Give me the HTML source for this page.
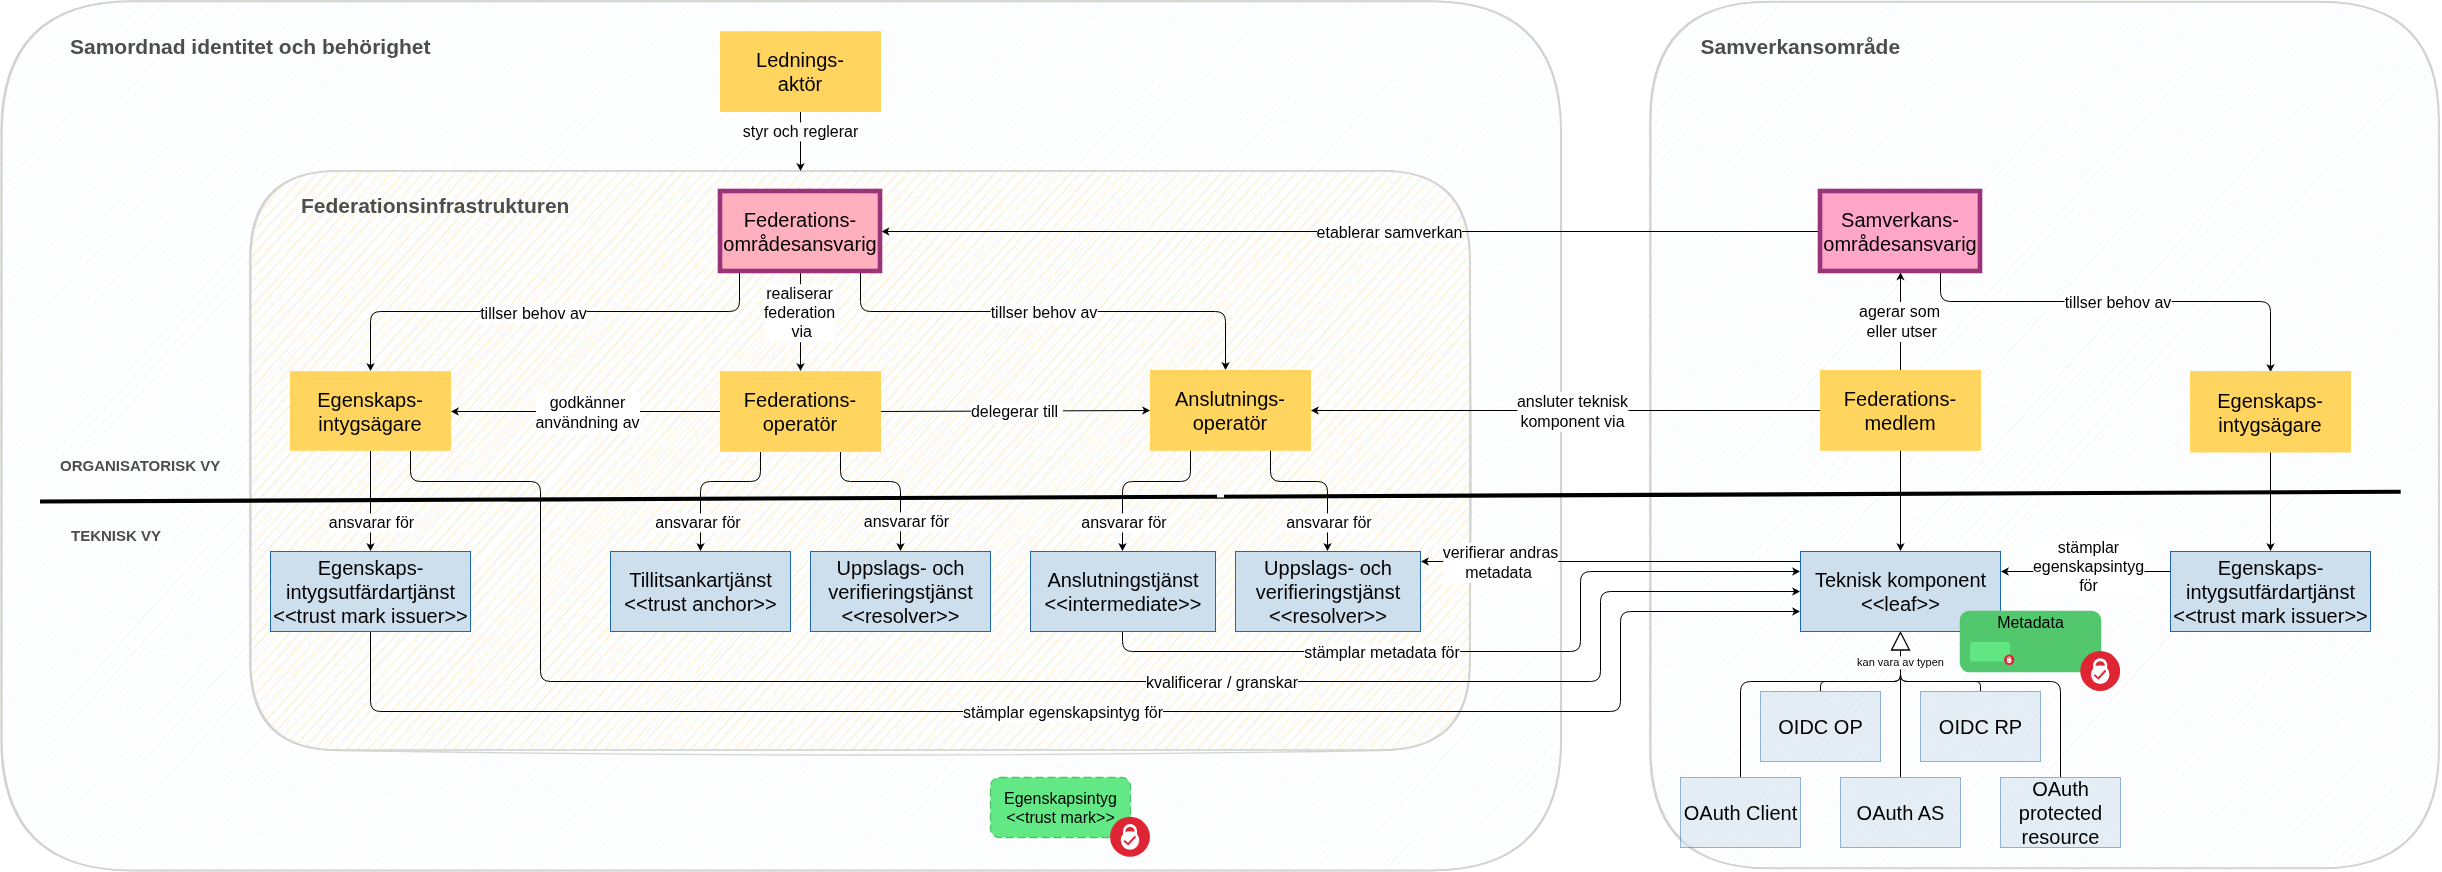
<!DOCTYPE html>
<html lang="sv"><head><meta charset="utf-8"><title>Federation</title>
<style>
html,body{margin:0;padding:0;background:#fff}
#c{will-change:transform;position:relative;width:2442px;height:872px;overflow:hidden;background:#fff;font-family:"Liberation Sans",Arial,Helvetica,sans-serif;color:#000}
#c svg{position:absolute;left:0;top:0}
.l{position:absolute;transform:translate(-50%,-50%);text-align:center;white-space:nowrap;line-height:1.2}
.b{font-size:20px}
.g{font-size:16px}
.e{font-size:16px;background:#fff}
.pad{padding:0 5px 0 0}
.lh{line-height:20.5px}
.lh2{line-height:20px}
.s{font-size:11px;background:#fff}
.t,.v{position:absolute;transform:translate(0,-50%);white-space:nowrap;font-weight:bold;color:#4d4d4d;line-height:1.2}
.t{font-size:21px}
.v{font-size:15px}
</style></head><body>
<div id="c">
<svg width="2442" height="872" viewBox="0 0 2442 872">
<clipPath id="cp1"><path d="M131.2 1.4 L1431.2 1.4 Q1561.2 1.4 1561.2 131.4 L1561.2 740.4 Q1561.2 870.4 1431.2 870.4 L131.2 870.4 Q1.2 870.4 1.2 740.4 L1.2 131.4 Q1.2 1.4 131.2 1.4 Z"/></clipPath>
<g clip-path="url(#cp1)">
<path d="M0.5 7.4C2.5 5.1 4.1 3.5 6.5 0.7M-0.0 12.5C4.0 12.1 6.2 7.7 13.5 -0.1M-0.3 18.6C8.5 11.5 13.6 6.7 16.8 1.6M1.9 25.0C5.2 20.7 10.4 14.5 23.9 2.2M2.7 32.2C7.0 25.8 13.0 16.1 29.1 0.0M2.3 37.6C12.6 25.7 21.5 16.2 33.8 1.2M1.9 41.5C15.5 28.5 30.5 13.8 38.0 0.9M-0.1 47.7C14.3 34.4 28.9 16.3 43.8 2.9M2.7 56.5C13.2 42.6 21.9 31.3 51.2 3.2M0.1 61.1C14.3 46.8 24.4 33.6 54.5 1.7M1.7 67.9C22.3 43.1 48.3 17.3 61.6 1.0M-0.6 71.4C18.7 51.5 37.3 31.0 63.8 0.0M2.7 79.6C15.4 61.7 31.6 45.0 69.7 2.8M-0.5 83.5C30.7 50.8 62.6 17.0 74.6 3.2M-0.7 91.2C28.4 65.0 52.0 35.2 81.4 0.1M0.5 95.9C32.9 64.6 63.6 30.0 88.6 2.4M-0.7 101.1C22.7 77.4 46.8 55.2 92.5 3.1M0.1 107.9C37.5 65.3 77.8 25.3 99.4 1.3M1.8 116.6C35.5 79.3 68.1 39.4 104.6 0.7M0.8 122.7C39.7 76.8 76.1 33.7 110.5 2.6M1.8 126.3C26.5 95.6 50.3 70.2 114.8 1.5M2.5 131.8C46.2 80.3 91.9 30.7 118.7 1.1M1.0 139.2C29.7 107.8 57.8 77.1 125.1 1.5M-0.8 146.1C26.4 116.4 54.9 87.5 129.7 1.5M1.4 149.9C41.5 106.3 84.2 59.0 136.7 2.9M1.2 157.5C41.1 112.1 81.6 68.6 141.9 2.7M2.7 164.0C57.1 98.6 114.6 35.8 145.6 -0.1M0.0 169.5C51.3 110.6 102.3 57.6 150.9 3.0M2.3 173.6C44.7 125.0 88.0 75.5 156.7 2.2M-0.4 180.2C34.4 144.4 65.4 109.4 163.6 3.0M2.1 186.0C37.6 146.8 77.0 107.1 167.3 0.3M-0.1 191.3C67.7 118.5 131.8 46.7 173.9 2.4M2.3 198.5C38.1 157.3 78.4 113.6 177.7 1.5M-0.2 203.7C47.2 154.7 93.9 104.3 184.2 0.4M-0.3 211.3C53.6 154.0 104.2 99.9 188.4 2.4M0.9 216.6C57.3 155.4 111.7 93.3 195.6 1.8M0.1 221.3C58.4 161.0 112.6 98.4 201.4 2.5M0.6 228.4C69.3 153.3 137.9 78.9 207.1 1.5M0.8 233.1C51.6 177.0 104.2 118.2 211.1 -0.0M-0.1 239.2C56.5 179.6 111.7 120.0 217.2 1.8M0.7 247.8C74.7 163.3 151.8 77.3 222.8 2.5M0.2 252.5C74.0 170.7 148.4 89.0 227.5 2.5M-0.0 257.5C78.1 171.7 157.2 86.4 233.0 1.7M2.0 265.1C80.9 177.6 160.9 88.0 238.6 0.8M0.5 271.0C55.2 211.9 105.8 154.0 243.9 2.1M0.3 275.8C81.4 188.3 161.0 98.6 247.7 0.8M0.7 282.4C85.1 187.8 168.8 94.9 253.5 2.6M2.0 289.4C102.8 176.8 202.2 67.3 258.9 1.6M0.4 295.1C61.4 226.9 122.0 158.5 265.9 1.4M1.1 299.8C57.2 238.7 112.8 178.6 269.2 2.0M1.7 307.2C103.0 192.6 204.2 81.8 275.9 1.1M0.3 313.0C81.4 225.8 161.3 135.5 281.1 0.7M1.9 318.5C78.9 231.0 156.5 143.5 285.5 1.9M0.8 323.3C85.6 229.4 169.0 136.1 291.4 1.9M0.8 330.3C118.8 199.1 235.3 69.2 298.0 1.4M1.1 335.5C72.8 252.2 146.7 170.6 302.1 0.9M1.0 342.0C96.3 234.2 192.3 126.7 307.6 2.3M1.9 347.6C71.1 269.2 141.6 191.5 314.2 2.0M1.6 354.8C121.6 223.5 239.7 91.0 319.5 2.0M0.5 359.5C119.6 228.0 240.2 94.9 324.4 1.9M1.7 365.6C97.4 261.3 192.1 154.1 329.1 1.6M1.2 372.2C115.5 246.8 229.3 120.6 334.6 1.3M1.2 377.6C133.2 230.2 266.8 81.6 339.5 1.4M1.5 384.7C116.4 255.8 231.9 128.3 346.0 0.9M0.7 390.7C125.9 250.8 251.5 110.2 351.5 1.1M0.8 395.8C140.2 243.5 278.0 88.6 356.0 2.2M1.0 402.6C85.6 312.1 168.2 220.9 361.6 0.9M1.5 407.7C141.9 251.6 283.3 93.7 366.9 1.2M0.7 413.6C148.2 251.7 292.8 89.1 372.6 1.2M1.8 419.1C146.7 260.1 291.9 98.2 377.2 0.7M1.8 425.6C148.4 262.8 295.7 98.7 383.7 1.1M1.9 432.0C102.5 320.4 200.2 211.4 389.5 2.1M1.2 438.5C110.5 317.5 220.4 196.5 394.6 1.6M1.7 443.1C107.1 327.1 213.0 208.6 398.8 1.5M2.0 449.4C105.9 329.0 213.6 211.1 404.8 1.0M1.6 456.3C116.9 325.8 233.1 197.3 410.4 1.2M0.8 461.1C147.0 302.7 290.2 142.4 416.4 1.4M2.0 467.0C103.4 352.8 207.4 238.2 420.3 1.1M1.3 474.3C97.4 366.9 192.7 260.2 426.9 2.1M0.7 479.4C95.5 373.0 190.9 267.9 432.0 0.9M0.7 485.3C89.6 387.5 178.3 288.4 436.5 1.2M0.7 491.9C137.3 340.7 274.0 189.8 442.3 1.5M2.0 497.3C122.3 362.0 243.6 226.1 448.6 1.3M1.1 503.0C165.4 319.4 331.0 137.2 452.7 1.6M0.9 509.6C127.3 370.9 252.0 232.7 459.5 0.9M1.2 514.8C104.4 397.7 208.6 282.2 464.6 0.9M1.8 522.0C169.1 335.6 336.7 150.4 469.3 0.8M0.5 527.6C118.8 394.0 237.1 262.9 475.0 1.5M1.3 533.3C158.2 360.5 313.7 186.7 480.4 1.4M1.1 538.9C119.7 404.8 238.8 272.4 485.0 1.3M0.5 545.8C151.6 380.6 298.4 216.3 490.8 2.1M1.6 551.9C111.7 425.2 224.7 300.2 497.1 0.9M1.0 557.8C177.8 360.9 357.0 161.9 501.2 1.4M1.2 563.0C196.0 348.0 390.5 133.4 507.4 2.0M1.2 569.5C119.2 438.7 239.0 305.5 513.2 0.8M1.7 574.9C207.4 347.1 412.3 118.7 517.8 0.9M0.8 581.5C186.1 377.9 367.7 175.2 522.5 0.7M1.2 587.9C121.3 452.4 243.4 317.4 527.9 1.2M1.3 593.4C119.3 463.6 237.7 331.9 534.8 1.0M1.8 599.6C126.7 460.8 249.8 324.0 539.6 1.2M1.6 604.8C181.0 403.8 359.4 205.7 544.4 0.7M1.9 610.6C198.4 394.2 394.2 177.3 550.7 0.9M1.8 617.6C147.7 457.1 293.1 297.0 555.5 1.8M0.8 622.4C164.9 444.7 328.1 264.2 561.3 1.0M1.2 628.7C177.4 433.5 352.3 238.3 565.6 1.0M1.6 634.8C141.6 476.1 281.7 320.4 572.0 1.7M1.7 641.4C191.1 428.0 382.7 215.2 576.8 0.9M0.6 646.3C191.4 436.3 380.4 225.5 581.8 0.7M1.6 652.3C199.3 431.3 398.2 211.4 588.5 0.7M0.6 658.5C219.6 410.5 441.9 166.1 593.5 1.9M0.6 665.4C196.8 450.1 392.1 233.1 598.3 1.1M1.9 670.9C209.3 442.2 414.9 212.2 603.9 1.8M0.7 677.5C163.3 495.3 327.2 312.0 608.9 1.8M1.2 683.4C246.1 413.3 489.1 144.3 614.4 2.1M1.2 688.2C161.9 510.7 321.1 335.2 620.7 1.6M1.8 694.2C171.7 506.6 339.8 319.0 626.2 1.4M1.1 700.9C173.2 509.6 346.7 316.0 630.7 0.8M0.7 706.7C234.8 445.7 467.9 185.5 637.0 1.0M1.7 712.2C154.4 541.8 307.3 372.7 641.2 1.1M0.6 719.5C151.5 546.8 306.5 376.8 647.5 1.3M0.7 724.5C155.5 553.6 312.5 381.0 652.5 1.6M1.0 731.1C196.1 516.6 387.8 303.7 657.7 1.0M1.5 737.2C227.3 482.2 455.0 228.4 663.5 0.8M1.4 742.3C188.9 531.0 378.7 320.5 668.9 2.1M1.0 748.6C160.2 569.6 318.7 393.0 674.5 2.1M1.3 755.0C209.7 525.6 416.3 296.5 679.3 2.1M1.6 760.0C166.3 577.2 330.2 393.3 684.6 0.6M1.0 766.2C196.7 548.8 393.3 331.3 689.7 1.9M1.6 773.0C196.5 559.9 389.7 344.8 696.3 1.2M1.1 778.2C228.6 521.4 458.4 267.1 701.5 1.0M0.7 783.7C197.2 569.0 390.5 353.5 706.3 1.3M1.9 791.1C232.1 533.4 466.2 274.9 711.1 1.9M1.9 796.7C237.7 538.9 471.4 279.4 717.5 1.2M0.7 803.1C165.1 616.5 331.4 432.1 722.9 1.9M1.6 808.3C174.6 615.1 347.6 421.3 727.3 1.4M1.2 814.4C156.4 645.0 310.6 472.8 733.2 1.5M1.1 821.1C243.9 548.6 490.4 274.8 738.8 1.7M1.2 826.3C289.9 504.1 576.5 186.3 743.7 2.0M1.6 831.9C205.7 605.0 410.3 378.6 749.0 1.9M1.2 839.1C213.0 605.2 424.0 369.5 754.4 1.5M1.6 844.9C247.5 570.8 495.3 295.1 759.6 2.1M1.9 850.4C246.2 575.6 492.3 302.4 765.8 0.9M0.6 855.7C257.4 570.1 515.4 284.9 770.7 1.9M0.9 862.1C277.4 556.0 554.9 249.3 775.6 1.5M1.3 868.9C166.0 685.3 328.1 506.0 782.4 2.2M4.8 869.9C235.5 615.7 466.2 360.3 786.4 2.1M9.2 870.8C177.3 684.0 347.5 493.8 792.9 1.7M15.6 870.7C304.1 551.2 594.1 228.8 798.2 0.6M20.1 870.1C178.9 691.5 337.9 515.7 802.5 1.2M25.6 870.9C272.8 595.8 519.7 321.7 808.4 1.9M31.2 869.7C334.7 532.3 638.8 193.7 814.1 2.2M36.8 871.0C322.6 553.6 609.5 235.7 819.8 1.1M42.4 870.9C201.3 696.1 358.0 523.2 825.3 1.5M48.0 871.1C244.3 646.4 444.0 426.2 829.6 1.8M53.3 870.3C356.7 533.6 659.9 198.7 835.4 0.7M58.6 871.0C339.9 558.1 621.9 244.2 840.4 0.9M63.9 870.2C247.2 665.5 431.2 461.6 846.1 0.8M69.3 870.2C322.7 588.0 577.5 305.8 852.2 1.4M74.5 871.1C321.9 596.8 567.5 323.5 856.3 0.9M80.0 871.0C267.6 668.7 453.1 462.1 862.6 1.2M85.4 870.6C258.1 677.6 432.5 482.6 867.2 2.1M90.3 870.2C405.0 527.8 716.6 180.2 873.6 1.7M95.5 870.8C351.1 587.3 607.8 300.9 879.0 0.8M101.5 869.9C309.9 642.1 517.8 411.8 884.3 0.9M107.6 871.0C266.6 691.5 428.1 511.4 890.0 1.9M112.8 870.4C367.6 587.8 621.8 304.7 895.0 1.5M117.5 869.8C293.8 673.5 473.1 473.4 900.1 1.1M122.3 871.0C423.8 536.2 721.3 205.5 905.1 0.9M129.1 869.8C338.1 630.8 551.3 393.4 910.5 2.2M133.2 869.6C291.2 694.9 449.1 518.1 916.9 0.9M139.6 870.7C387.1 598.6 632.8 326.4 921.6 1.0M145.0 870.5C332.0 658.8 521.6 449.7 927.3 0.7M150.5 870.4C433.6 554.2 717.7 239.5 932.0 0.9M155.1 870.6C442.1 554.2 729.4 235.9 937.2 1.7M161.0 870.2C442.8 555.1 727.3 240.8 943.1 1.4M166.8 870.0C404.8 606.8 644.4 341.9 947.8 0.8M171.6 870.5C439.5 578.5 704.7 283.4 954.3 0.7M176.5 869.8C352.5 674.6 528.5 480.6 958.7 1.5M182.9 870.2C457.8 565.3 731.2 261.1 965.4 1.8M187.5 871.2C399.4 639.5 608.9 406.7 969.3 1.4M192.9 870.6C496.1 531.7 802.1 191.3 975.4 0.6M199.1 870.6C373.9 671.3 552.3 471.9 981.0 1.0M204.4 870.6C467.6 578.5 730.5 287.4 985.9 1.1M209.9 870.4C469.2 583.4 727.5 296.6 991.0 0.8M214.1 869.7C417.7 647.4 620.2 422.2 997.2 0.9M220.1 870.4C487.5 572.4 755.0 275.6 1002.2 1.5M224.9 870.5C384.6 691.9 543.8 516.1 1008.2 0.9M230.0 870.2C394.9 685.7 561.3 499.5 1013.9 1.8M236.3 870.6C418.4 671.2 598.6 470.4 1018.9 1.8M242.1 869.8C470.9 611.9 701.6 356.4 1023.9 2.1M247.4 870.6C493.2 595.3 739.3 322.6 1028.9 1.2M252.7 871.0C496.4 601.1 739.3 330.6 1034.1 1.5M257.3 870.9C508.5 593.6 755.0 317.9 1040.7 0.6M263.6 870.8C426.5 689.2 590.4 506.4 1045.7 1.2M269.1 870.7C480.2 634.7 692.4 399.2 1050.9 1.5M273.6 870.6C565.5 543.5 858.9 217.6 1055.6 1.1M278.5 871.0C586.7 527.0 896.8 183.2 1061.4 0.9M284.0 869.9C486.5 646.3 687.9 422.8 1067.2 0.7M290.2 869.6C508.4 626.9 729.8 381.3 1071.8 1.4M295.3 871.2C540.1 599.4 782.4 329.0 1078.1 0.8M301.2 870.6C475.6 678.4 646.5 488.3 1082.8 1.7M305.4 871.0C520.3 636.3 732.0 401.1 1087.8 2.0M311.6 870.0C555.1 596.4 804.1 320.3 1094.5 1.9M316.8 871.1C519.7 640.8 724.4 413.9 1098.9 2.0M321.6 870.2C551.9 614.8 784.4 356.1 1104.0 1.5M326.9 870.9C544.8 631.9 761.4 391.1 1109.6 0.7M333.3 869.7C594.1 583.8 854.3 294.0 1115.9 1.9M338.1 871.1C520.3 668.3 702.2 465.6 1120.7 0.8M343.8 870.2C612.0 571.5 879.0 275.3 1125.5 1.4M348.9 870.7C592.2 600.3 833.3 331.8 1131.0 2.0M354.6 870.2C560.1 642.9 766.1 413.4 1136.5 0.8M360.5 870.8C630.6 573.2 898.1 273.9 1141.5 1.7M365.5 870.7C626.2 582.4 886.7 292.9 1147.2 0.8M369.9 869.7C667.8 536.2 967.3 204.0 1152.3 1.1M376.1 870.7C634.2 583.4 891.3 298.6 1157.6 1.9M381.9 870.6C660.1 564.1 938.2 256.2 1163.4 2.1M386.6 870.8C663.9 564.8 936.5 261.8 1169.1 2.1M392.3 870.3C654.5 574.6 919.8 280.3 1175.3 0.8M398.0 870.0C676.5 563.7 952.4 256.8 1179.6 0.7M402.6 869.8C616.3 636.6 828.1 399.9 1185.4 1.3M408.9 869.8C712.4 534.9 1015.7 198.8 1191.2 0.9M414.1 870.9C673.2 580.7 934.4 290.9 1195.4 1.0M418.4 870.1C604.9 662.4 791.8 453.9 1200.7 2.2M425.2 870.5C700.6 564.8 975.1 260.1 1207.0 0.6M430.5 870.6C728.8 535.6 1029.0 201.6 1212.7 1.9M435.8 871.1C639.7 644.7 843.6 419.3 1217.4 0.9M440.7 870.2C728.0 553.6 1012.4 236.8 1223.2 1.9M446.0 870.4C709.5 570.9 977.1 274.1 1228.7 0.9M450.6 870.3C673.4 622.5 899.0 371.9 1234.4 1.9M456.8 870.3C681.0 621.5 904.6 374.4 1239.8 0.9M461.9 869.9C664.6 644.5 868.0 420.4 1245.2 2.0M468.0 869.7C773.5 526.7 1081.9 183.5 1250.7 1.4M473.5 869.6C731.6 585.4 989.8 298.1 1255.6 1.2M478.4 870.2C725.6 595.0 974.2 320.8 1260.1 2.0M483.2 870.4C682.7 651.9 878.9 433.9 1266.1 1.5M488.9 871.0C658.8 685.7 828.2 497.0 1272.3 1.8M493.9 871.1C664.7 680.0 836.5 488.4 1276.2 1.0M499.3 870.1C718.3 631.2 933.3 393.0 1282.8 1.5M505.6 870.1C803.1 539.5 1103.3 205.3 1287.4 1.8M510.7 869.8C813.9 535.2 1118.1 196.8 1293.3 1.0M516.1 869.8C702.3 660.3 890.2 453.0 1298.5 1.1M521.9 870.5C786.5 579.9 1050.9 285.4 1303.5 0.8M526.0 869.9C759.6 607.8 994.0 346.5 1308.6 2.0M531.4 870.1C747.1 628.2 965.7 384.6 1314.0 1.2M537.2 869.6C766.8 615.7 995.5 360.8 1320.7 0.7M542.5 870.4C720.6 672.8 900.3 474.3 1326.1 0.7M548.7 870.6C790.8 596.6 1034.4 326.1 1331.3 2.1M554.0 870.4C818.3 576.3 1081.3 284.2 1335.4 1.1M558.8 870.0C762.2 640.3 969.2 409.8 1342.0 1.3M563.9 869.7C789.8 620.1 1016.7 369.3 1347.5 1.1M569.3 870.5C870.6 538.9 1170.9 205.1 1352.8 0.7M574.8 869.6C804.1 613.4 1037.3 355.3 1357.4 0.9M580.0 870.8C829.6 591.1 1079.0 312.8 1363.6 1.1M586.5 870.6C766.6 672.2 943.6 475.5 1368.6 1.2M591.2 869.7C855.4 581.1 1117.9 289.7 1373.4 1.3M597.5 869.7C752.5 694.2 910.7 517.0 1378.6 0.8M601.9 870.5C881.6 561.4 1158.3 254.3 1384.2 1.8M607.9 870.1C803.2 650.9 999.6 431.2 1389.9 2.1M613.1 870.8C793.1 674.6 970.1 477.5 1394.6 0.6M618.3 869.9C799.5 673.1 975.7 475.6 1401.0 2.1M623.2 871.2C808.7 666.9 990.3 465.2 1406.0 1.1M628.3 870.6C929.4 538.7 1226.8 207.4 1411.3 2.1M634.0 870.0C937.7 533.7 1241.7 196.5 1417.0 1.1M639.2 871.0C954.4 523.0 1266.3 177.3 1421.8 1.1M645.4 870.6C874.8 614.5 1108.0 355.7 1428.2 1.2M651.1 871.2C926.2 562.3 1204.4 254.5 1432.2 2.1M655.4 870.7C833.7 672.7 1015.1 473.2 1438.9 2.2M661.6 869.7C824.8 688.6 986.3 508.9 1443.0 2.2M666.6 869.8C869.9 643.5 1076.4 414.6 1449.5 1.4M672.7 870.2C846.7 677.8 1021.8 484.1 1454.1 0.9M677.4 870.3C878.4 653.2 1075.4 434.0 1460.1 1.5M683.4 870.7C923.7 597.9 1166.1 329.8 1465.1 1.2M687.4 870.6C912.0 621.8 1132.1 377.0 1470.2 0.9M694.2 869.7C866.2 674.4 1040.7 480.7 1475.7 2.2M699.0 870.5C854.7 693.8 1010.7 520.7 1481.2 1.7M704.6 870.1C922.4 627.6 1139.8 385.5 1486.4 2.1M709.7 870.0C938.2 614.9 1169.3 358.2 1492.2 1.9M715.0 870.6C911.7 653.7 1105.6 437.1 1497.4 1.9M720.1 869.8C1007.3 557.1 1292.1 240.6 1502.3 1.2M725.8 870.9C1037.4 523.1 1349.8 176.4 1508.3 1.0M730.5 869.9C947.0 632.2 1160.9 395.0 1513.3 1.1M736.8 871.0C928.2 657.0 1123.4 441.5 1518.9 0.7M741.7 870.3C968.9 618.9 1194.2 367.5 1524.6 2.1M747.2 870.7C930.3 661.3 1117.5 454.7 1529.9 1.4M752.9 870.3C1048.5 543.5 1345.9 212.4 1535.8 1.3M758.4 870.8C991.3 608.4 1225.1 350.1 1541.0 1.8M764.0 869.8C939.8 679.1 1115.5 483.7 1546.3 1.7M768.8 870.5C1004.9 612.0 1236.7 353.2 1551.1 1.4M773.9 870.1C927.9 697.5 1085.9 522.1 1556.6 0.7M780.3 870.0C980.6 641.3 1185.0 415.4 1561.1 2.4M784.6 871.1C1031.9 594.8 1277.4 322.5 1561.1 8.5M790.1 870.7C996.5 642.1 1200.0 416.1 1561.1 15.0M795.1 871.0C957.5 689.9 1119.6 510.6 1561.3 20.9M800.9 869.9C1028.3 615.9 1256.2 363.0 1560.6 25.7M806.8 870.0C1073.5 572.1 1341.6 272.1 1561.5 31.6M812.1 870.1C1088.6 565.9 1364.3 260.6 1561.7 37.7M816.6 870.2C1082.1 573.3 1349.6 275.8 1561.1 44.6M823.3 869.8C1033.4 638.9 1244.6 403.6 1560.9 50.0M827.5 870.4C1085.4 583.0 1341.5 297.2 1560.6 55.9M834.2 869.7C1106.9 566.7 1382.1 260.7 1561.5 61.5M839.3 869.9C1032.3 657.6 1223.7 444.2 1560.6 68.3M843.5 870.4C1099.4 586.1 1355.8 301.3 1561.0 74.0M850.4 870.1C1089.0 610.0 1325.1 346.0 1560.6 80.8M854.4 870.3C1012.3 695.0 1170.6 519.5 1560.7 86.0M861.0 870.4C1032.0 683.8 1200.8 497.2 1561.7 92.2M865.2 870.0C1101.6 608.0 1337.3 346.9 1561.8 97.4M871.6 870.7C1090.0 627.5 1308.7 386.8 1560.5 104.3M877.1 870.3C1107.0 613.2 1338.7 356.6 1561.1 109.4M881.4 870.2C1049.1 681.1 1218.3 493.5 1562.0 116.8M887.8 871.1C1129.3 602.5 1369.9 334.3 1561.8 122.5M892.2 871.1C1037.7 709.4 1182.9 547.3 1561.9 128.6M898.2 870.3C1128.1 612.2 1359.6 354.4 1561.9 134.0M903.9 870.0C1162.2 583.2 1417.2 299.3 1560.8 139.9M908.7 870.9C1157.2 593.1 1406.4 316.9 1561.0 145.2M914.4 870.9C1126.6 633.0 1339.9 395.5 1560.6 152.4M919.4 869.9C1100.8 669.0 1283.3 465.9 1560.5 157.5M925.5 869.8C1142.1 628.5 1358.8 388.3 1560.8 164.6M930.6 871.0C1103.6 677.5 1276.4 486.7 1562.0 169.3M935.0 869.9C1167.3 615.9 1396.1 361.2 1561.0 175.2M941.0 871.1C1132.3 656.8 1323.6 442.8 1561.1 182.5M946.3 870.4C1113.4 684.5 1280.5 497.7 1562.0 187.0M951.8 870.8C1175.1 622.2 1398.5 372.8 1560.9 193.1M957.4 870.5C1190.4 610.0 1427.4 348.4 1560.8 200.1M963.5 870.6C1117.5 699.4 1271.4 528.2 1561.5 206.0M968.6 870.9C1121.2 701.2 1273.0 534.0 1560.7 212.0M973.1 870.2C1112.8 720.4 1249.2 566.5 1561.9 217.2M978.5 870.2C1132.8 702.1 1286.5 530.0 1561.9 223.5M983.9 869.8C1195.9 633.6 1407.6 398.5 1561.6 229.2M989.3 870.6C1142.9 697.7 1298.3 524.7 1561.3 235.3M994.3 870.5C1216.3 627.9 1435.4 384.1 1560.6 241.2M1000.7 870.8C1182.4 665.6 1367.4 459.8 1561.0 248.0M1005.8 870.4C1157.5 702.9 1306.6 535.4 1560.5 253.4M1011.3 870.2C1174.8 685.8 1340.5 503.1 1561.7 258.9M1017.2 871.0C1197.8 668.7 1379.7 466.5 1560.6 265.8M1021.2 870.6C1205.6 666.9 1388.4 462.7 1560.6 271.7M1027.6 869.7C1237.3 636.5 1446.8 402.8 1560.6 277.1M1033.2 869.7C1145.4 745.2 1256.4 621.7 1560.9 283.1M1037.6 870.9C1204.0 687.0 1366.8 505.1 1560.4 289.4M1043.8 870.5C1192.7 706.1 1340.5 541.9 1561.8 296.1M1049.6 869.7C1231.6 665.2 1416.4 460.7 1561.5 301.3M1053.8 869.9C1192.0 719.7 1327.6 568.1 1561.5 306.8M1060.3 870.8C1187.0 729.2 1313.6 587.9 1560.5 312.8M1065.2 870.0C1163.7 757.3 1264.6 647.0 1560.9 318.5M1070.8 870.3C1185.7 740.1 1301.2 613.0 1561.2 326.0M1076.2 869.8C1259.4 664.4 1445.7 457.7 1560.8 330.5M1081.9 870.3C1263.9 664.9 1447.3 462.1 1560.6 336.4M1085.7 870.9C1201.8 742.8 1315.9 615.5 1561.3 342.5M1091.8 870.6C1215.1 730.6 1340.4 592.8 1560.6 349.3M1097.4 870.6C1203.3 754.4 1306.8 638.8 1560.5 355.1M1102.2 870.6C1230.7 726.9 1358.2 585.0 1561.4 360.4M1107.8 870.9C1218.8 746.9 1331.0 621.3 1560.6 367.9M1113.0 871.1C1276.2 693.0 1438.8 513.6 1561.9 372.7M1118.1 871.2C1223.1 755.6 1325.3 642.3 1561.2 378.4M1123.4 871.0C1278.9 696.0 1435.0 522.2 1561.4 385.5M1129.2 870.2C1223.5 767.3 1316.6 664.1 1561.7 390.9M1134.8 869.8C1230.8 765.2 1325.5 658.2 1561.6 397.5M1140.0 870.8C1296.8 698.2 1453.7 525.7 1560.4 402.3M1145.7 870.3C1237.4 767.5 1330.3 665.2 1561.6 409.4M1150.3 870.7C1307.3 695.3 1464.3 520.7 1561.9 414.8M1156.2 870.1C1294.8 717.5 1434.4 564.5 1561.9 421.3M1161.5 870.0C1306.7 705.9 1453.1 544.3 1561.9 426.6M1167.7 870.5C1305.1 714.8 1445.0 559.5 1561.0 432.9M1172.8 870.5C1327.2 700.5 1480.0 531.3 1561.9 438.2M1177.2 870.0C1272.0 766.7 1364.0 662.7 1561.5 445.1M1183.0 869.6C1314.8 724.2 1446.0 578.8 1561.4 450.9M1188.4 869.7C1311.1 732.0 1434.9 595.2 1560.6 456.7M1194.6 869.9C1337.5 710.2 1482.6 550.2 1561.1 463.1M1200.1 869.6C1277.9 782.5 1357.1 695.4 1561.5 468.4M1204.4 870.7C1278.0 789.6 1349.3 708.8 1560.6 475.5M1209.8 869.7C1306.1 763.0 1403.3 655.3 1561.0 481.0M1215.5 870.4C1292.8 783.3 1372.6 696.0 1561.0 487.1M1220.9 870.2C1305.5 778.6 1389.1 685.5 1561.5 493.2M1225.8 870.3C1310.8 778.1 1392.6 686.9 1560.7 498.2M1231.6 870.3C1328.6 766.3 1422.0 660.4 1561.6 504.7M1236.5 871.2C1357.0 734.4 1477.6 600.8 1560.7 509.8M1243.0 869.7C1321.8 780.6 1402.0 691.7 1561.0 515.9M1247.1 870.7C1372.4 732.4 1496.6 595.6 1561.3 522.0M1252.7 871.0C1346.1 767.9 1438.3 664.7 1562.0 527.9M1257.9 869.9C1331.7 786.7 1406.2 703.8 1561.7 534.6M1263.1 871.3C1379.1 741.8 1494.9 614.8 1561.2 541.4M1268.9 871.4C1364.9 763.8 1460.5 659.0 1561.0 546.1M1274.2 871.1C1371.0 764.9 1467.1 658.4 1561.3 552.8M1281.2 869.7C1344.3 800.6 1409.1 730.4 1560.3 557.8M1285.4 871.2C1350.1 799.9 1415.0 727.1 1562.2 564.2M1289.9 869.9C1346.0 809.5 1404.1 745.2 1561.3 571.1M1295.5 869.8C1392.0 764.3 1488.0 658.7 1562.3 575.6M1301.0 870.9C1355.7 807.6 1411.8 746.2 1561.6 581.3M1307.6 871.1C1394.0 772.2 1484.1 674.5 1561.6 587.5M1312.4 871.5C1408.3 762.8 1507.5 655.9 1560.5 594.8M1317.0 869.7C1382.8 795.5 1448.5 721.7 1561.0 600.0M1323.5 870.0C1374.8 811.9 1424.8 755.1 1560.0 606.7M1329.4 871.3C1383.5 809.4 1437.6 750.3 1560.4 612.9M1334.4 871.3C1395.0 804.0 1452.3 736.9 1561.3 618.8M1338.6 870.9C1396.0 808.5 1453.1 747.1 1562.5 622.8M1343.9 869.9C1391.7 814.9 1439.6 761.8 1560.5 628.9M1350.6 871.0C1396.4 821.7 1443.5 769.6 1561.2 635.2M1354.6 871.0C1434.4 784.3 1513.3 696.4 1562.1 640.9M1361.9 871.3C1424.7 798.1 1489.5 728.9 1560.1 647.1M1365.6 869.7C1429.1 801.6 1491.6 731.6 1561.9 653.2M1372.1 871.6C1419.3 815.0 1469.6 760.5 1560.2 659.2M1378.6 871.3C1440.7 796.8 1507.2 723.6 1561.5 664.7M1383.9 871.6C1419.9 828.8 1456.3 788.1 1561.3 671.5M1386.6 869.0C1446.9 803.5 1506.0 738.0 1560.3 677.4M1392.9 870.2C1443.6 816.0 1492.2 758.2 1561.1 684.4M1400.0 869.2C1441.5 823.3 1482.5 775.4 1562.0 690.8M1402.7 872.0C1448.9 819.8 1496.5 769.1 1559.9 694.4M1408.3 869.3C1445.6 830.0 1479.5 789.8 1560.3 703.5M1416.2 871.8C1448.1 835.1 1481.3 796.4 1561.1 708.6M1421.8 869.0C1471.2 816.3 1518.1 761.7 1561.1 715.5M1424.4 871.3C1455.2 835.1 1486.6 802.8 1562.5 720.1M1432.6 872.2C1455.8 842.3 1484.1 810.7 1560.7 725.3M1435.3 872.0C1470.1 834.4 1505.8 797.4 1560.2 733.4M1442.8 871.7C1482.6 822.6 1526.2 775.5 1559.7 737.9M1448.5 871.8C1478.3 835.4 1509.0 804.0 1561.9 744.3M1452.3 869.8C1475.5 846.1 1498.7 818.5 1560.6 748.7M1459.1 869.3C1479.3 844.4 1504.7 819.7 1561.0 755.3M1463.8 872.0C1497.5 833.2 1533.8 791.6 1562.7 761.9M1468.7 870.3C1488.6 848.6 1510.1 823.2 1560.6 767.1M1475.7 868.5C1508.2 832.9 1542.8 794.9 1559.6 773.7M1478.3 871.4C1509.9 836.4 1540.0 806.5 1560.9 779.1M1484.0 869.7C1511.1 840.6 1536.5 812.8 1561.9 784.1M1491.4 869.1C1518.8 839.7 1546.0 810.1 1560.6 793.2M1497.2 872.0C1513.9 852.8 1529.7 835.4 1559.8 798.0M1500.0 869.5C1522.5 846.2 1544.4 820.4 1559.2 802.8M1505.3 870.5C1523.6 850.2 1545.3 827.6 1561.5 810.3M1510.8 871.8C1530.5 849.2 1547.9 831.5 1559.5 813.7M1516.9 871.0C1534.8 852.5 1549.7 834.5 1560.0 820.1M1521.1 869.3C1531.6 857.2 1543.5 846.3 1559.9 827.3M1529.6 870.3C1535.9 860.1 1545.3 847.8 1559.5 834.2M1532.9 869.8C1545.1 857.8 1553.9 847.5 1561.5 837.4M1539.1 872.1C1546.5 860.9 1554.4 852.1 1561.9 846.3M1545.4 871.6C1551.2 863.7 1556.9 857.3 1561.4 850.9M1550.4 868.7C1551.7 867.1 1555.1 863.6 1562.6 856.7M1554.7 870.1C1556.5 868.4 1559.2 865.5 1561.0 863.0" fill="none" stroke="#ecf3fe" stroke-width="0.65"/>
</g>
<path d="M131.2 1.4 L1431.2 1.4 Q1561.2 1.4 1561.2 131.4 L1561.2 740.4 Q1561.2 870.4 1431.2 870.4 L131.2 870.4 Q1.2 870.4 1.2 740.4 L1.2 131.4 Q1.2 1.4 131.2 1.4 Z" fill="none" stroke="#d0d0cc" stroke-width="1.7"/>
<path d="M134.1 0.9999999999999999 L1428.8 0.9999999999999999 Q1560.8 0.9999999999999999 1560.8 133.0 L1560.8 738.9 Q1560.8 870.9 1428.8 870.9 L134.1 870.9 Q2.1 870.9 2.1 738.9 L2.1 133.0 Q2.1 0.9999999999999999 134.1 0.9999999999999999 Z" fill="none" stroke="#d4d4d0" stroke-width="1.3"/>
<clipPath id="cp2"><path d="M1768 1.8 L2321 1.8 Q2439 1.8 2439 119.8 L2439 750.1999999999999 Q2439 868.1999999999999 2321 868.1999999999999 L1768 868.1999999999999 Q1650 868.1999999999999 1650 750.1999999999999 L1650 119.8 Q1650 1.8 1768 1.8 Z"/></clipPath>
<g clip-path="url(#cp2)">
<path d="M1649.6 7.5C1651.9 5.6 1653.2 3.7 1654.9 1.1M1648.6 13.0C1654.7 10.2 1659.2 6.6 1660.9 3.2M1648.8 20.7C1654.8 15.4 1655.3 13.4 1667.2 2.2M1648.5 23.8C1659.6 17.0 1665.7 5.6 1670.3 2.2M1651.9 31.4C1658.3 20.8 1666.7 13.7 1678.9 2.6M1649.4 38.6C1656.1 29.6 1666.1 19.2 1682.1 3.0M1650.4 43.0C1661.5 31.9 1675.2 18.6 1687.9 0.4M1648.0 50.8C1661.4 38.3 1668.4 28.2 1692.7 2.5M1651.8 57.4C1666.7 39.3 1679.4 21.4 1697.5 3.4M1652.0 62.3C1668.2 40.8 1687.3 18.8 1702.5 3.2M1648.3 69.3C1669.0 46.1 1686.6 28.2 1710.8 2.1M1651.1 71.9C1666.9 52.0 1687.7 32.9 1715.5 0.8M1650.0 80.4C1672.8 53.8 1697.3 25.8 1721.7 3.6M1651.2 86.5C1680.1 53.4 1709.9 20.3 1725.2 0.3M1648.2 93.4C1679.0 60.8 1705.6 29.0 1730.2 0.8M1648.3 98.9C1683.7 60.9 1713.3 27.9 1737.0 2.7M1648.5 104.7C1672.2 75.4 1698.3 48.7 1740.2 3.5M1651.7 108.3C1679.6 78.6 1708.4 47.5 1747.4 1.9M1651.7 116.6C1688.8 75.0 1724.9 31.8 1753.6 3.6M1650.2 121.0C1690.9 73.5 1733.5 29.0 1756.7 1.3M1648.6 128.9C1683.9 90.0 1721.5 47.7 1763.4 3.7M1648.1 132.1C1681.2 96.5 1716.0 61.1 1770.2 2.5M1650.2 140.7C1683.2 100.9 1716.6 63.2 1775.7 0.8M1650.2 144.1C1702.3 88.4 1754.5 34.0 1779.9 3.5M1648.2 149.6C1702.9 92.9 1756.1 31.9 1782.8 1.5M1648.3 156.2C1701.9 98.5 1754.8 39.7 1789.1 3.1M1649.7 163.9C1693.0 114.3 1740.3 62.8 1796.2 1.0M1651.6 170.9C1686.7 130.8 1720.1 90.7 1801.5 2.0M1648.8 174.0C1690.1 129.0 1734.7 80.4 1806.1 2.1M1648.4 179.7C1700.4 124.2 1751.9 68.2 1812.6 0.9M1649.5 188.0C1685.6 147.5 1724.1 106.3 1816.9 3.2M1648.7 192.6C1704.9 133.4 1761.2 70.9 1822.3 3.2M1649.4 200.4C1695.9 150.3 1738.4 100.0 1826.4 2.9M1648.6 205.1C1710.9 136.5 1772.5 71.4 1833.0 0.8M1648.8 212.3C1711.6 139.9 1775.7 69.9 1837.1 2.4M1650.5 216.2C1727.5 132.4 1804.9 45.0 1842.5 1.9M1650.0 222.9C1727.0 136.6 1807.2 49.0 1848.5 3.1M1650.0 227.9C1724.9 148.2 1798.8 66.5 1853.2 2.4M1648.7 235.2C1727.5 151.1 1803.1 67.1 1860.5 1.2M1648.9 241.5C1736.4 148.2 1819.6 54.2 1865.9 0.7M1648.7 246.5C1711.4 182.1 1770.8 114.2 1871.5 2.8M1651.2 253.0C1719.4 172.7 1792.0 92.5 1875.7 1.8M1650.0 258.9C1724.2 178.3 1797.1 96.3 1880.9 2.5M1649.4 265.9C1729.8 174.8 1809.9 85.3 1887.4 2.6M1649.9 270.4C1720.5 191.6 1793.5 112.7 1891.5 1.1M1650.3 277.3C1737.3 177.0 1825.9 78.8 1898.7 1.9M1649.3 282.4C1732.0 188.7 1818.0 94.1 1902.7 1.2M1650.8 289.6C1726.0 202.0 1802.5 118.0 1907.6 1.0M1649.6 295.5C1717.0 218.4 1783.0 144.2 1913.5 0.9M1650.2 300.1C1751.5 187.0 1854.8 72.4 1918.8 2.4M1649.3 305.6C1723.0 225.3 1795.3 143.1 1925.3 2.7M1649.6 311.7C1718.4 236.1 1788.0 159.1 1929.1 1.2M1650.8 317.8C1726.1 235.4 1800.7 152.3 1935.5 1.5M1649.5 325.2C1709.3 257.7 1768.8 189.4 1940.1 2.1M1649.8 331.2C1753.4 213.1 1859.9 96.5 1947.0 1.0M1649.2 335.8C1738.8 240.0 1827.2 141.9 1951.8 1.8M1650.0 342.3C1773.3 206.9 1895.0 72.1 1956.5 2.0M1650.8 348.3C1747.6 241.6 1846.0 132.6 1961.9 2.4M1649.8 354.3C1734.7 259.1 1820.6 164.3 1967.4 1.3M1649.8 360.9C1764.9 230.7 1882.2 103.1 1973.3 1.8M1650.2 366.8C1747.2 260.2 1843.7 152.8 1977.8 1.8M1650.0 372.6C1737.0 275.7 1825.5 178.7 1983.9 2.3M1650.5 378.5C1757.8 260.0 1863.9 142.6 1989.6 2.0M1650.7 385.1C1726.3 300.6 1802.7 215.8 1995.0 1.8M1650.5 390.7C1719.9 312.2 1790.5 233.3 1999.6 1.0M1650.2 395.7C1745.8 291.8 1840.9 187.3 2005.9 2.4M1649.6 403.0C1794.2 242.4 1936.8 82.0 2011.3 1.9M1650.3 408.2C1767.3 278.2 1884.4 147.9 2015.7 2.2M1649.8 413.8C1786.4 263.4 1922.7 111.6 2021.4 1.0M1649.8 419.8C1781.1 272.7 1913.7 125.5 2026.8 1.2M1650.5 425.7C1797.1 263.1 1943.9 99.8 2031.8 2.0M1649.5 432.1C1764.5 304.8 1879.8 177.3 2037.6 2.0M1649.7 438.8C1779.5 295.7 1907.4 153.4 2043.2 2.5M1650.0 443.6C1745.7 339.8 1840.7 233.5 2047.8 1.9M1649.9 450.1C1746.7 342.5 1842.9 236.1 2053.0 2.2M1650.4 455.8C1778.7 314.0 1906.9 172.0 2058.9 1.8M1649.4 462.2C1738.1 362.8 1826.6 265.9 2063.7 1.4M1650.0 467.7C1741.6 368.3 1832.8 267.7 2070.2 1.2M1649.4 474.4C1756.4 359.9 1859.5 242.8 2075.6 1.7M1649.3 480.7C1816.7 295.9 1982.9 111.7 2081.1 1.8M1649.9 486.3C1753.2 370.5 1855.9 256.0 2086.1 2.4M1650.8 491.2C1746.0 385.0 1841.7 278.9 2090.8 1.5M1650.2 498.2C1802.4 328.3 1955.1 158.8 2096.9 1.5M1650.5 503.6C1751.4 391.9 1852.7 278.5 2101.4 2.5M1649.5 509.8C1742.9 406.1 1836.1 302.1 2107.2 2.5M1650.8 515.6C1778.5 375.2 1906.2 232.9 2112.5 1.2M1649.5 521.8C1748.2 411.7 1844.9 303.7 2118.2 2.5M1649.9 527.1C1830.8 328.7 2010.3 128.5 2124.0 1.1M1650.3 533.1C1835.8 329.3 2020.3 124.3 2128.5 1.4M1650.0 539.2C1757.1 424.5 1860.9 307.8 2135.0 1.1M1649.9 545.9C1823.0 353.9 1992.4 165.3 2140.0 2.2M1649.9 551.4C1776.7 412.1 1902.8 272.1 2144.5 2.3M1650.0 557.8C1801.3 392.8 1950.6 227.3 2150.2 2.6M1649.6 564.2C1839.5 348.8 2031.6 136.8 2156.5 1.9M1649.6 569.9C1758.3 448.4 1869.5 325.2 2161.6 1.2M1649.3 575.2C1802.5 405.4 1954.2 236.0 2167.0 2.2M1650.0 581.2C1823.5 390.7 1995.5 199.4 2172.1 2.3M1650.7 588.2C1780.4 441.0 1911.1 296.0 2177.2 1.6M1650.3 593.1C1839.5 379.3 2031.3 166.0 2182.2 1.2M1649.7 600.1C1835.8 392.4 2020.8 186.7 2188.1 1.6M1649.2 606.3C1757.9 483.4 1867.7 360.9 2194.0 1.9M1650.8 611.3C1817.2 429.7 1980.9 246.2 2198.3 2.1M1650.5 617.0C1849.7 394.1 2050.2 171.1 2204.7 1.9M1650.7 624.0C1848.7 401.5 2048.4 180.4 2209.1 1.5M1650.3 630.2C1841.2 414.5 2033.5 200.8 2214.9 1.2M1650.3 636.1C1832.7 430.8 2018.1 225.8 2221.3 2.6M1649.5 642.2C1814.5 455.2 1981.5 270.2 2225.9 1.7M1650.4 647.6C1877.2 393.1 2104.9 140.9 2231.5 1.8M1649.5 653.1C1803.9 478.0 1959.2 306.1 2237.2 2.1M1650.1 658.6C1880.9 400.0 2114.1 141.1 2242.1 1.6M1650.4 665.8C1828.9 468.6 2007.2 271.8 2248.2 2.2M1649.6 672.0C1774.6 531.1 1899.7 390.6 2252.6 1.5M1650.1 678.0C1863.7 440.8 2078.0 203.0 2257.5 1.7M1650.2 683.2C1839.5 469.5 2030.1 258.6 2262.8 1.5M1649.2 689.5C1885.2 429.4 2116.8 171.4 2269.3 1.8M1650.7 695.7C1852.2 471.7 2052.0 249.3 2274.1 2.3M1650.7 700.4C1797.3 535.5 1946.4 370.6 2280.3 1.6M1649.7 706.6C1843.6 490.7 2041.1 272.8 2284.5 2.3M1650.5 712.7C1845.8 497.6 2037.8 281.8 2291.1 2.3M1650.2 719.7C1791.0 560.0 1932.6 403.5 2295.6 2.1M1649.6 724.7C1867.5 480.5 2087.4 238.1 2300.9 2.1M1650.4 730.8C1871.3 485.2 2092.1 241.5 2307.2 1.3M1649.5 736.4C1797.8 571.7 1944.2 409.0 2311.6 2.1M1649.2 742.8C1900.2 466.0 2151.1 188.3 2317.5 2.1M1649.7 749.4C1801.9 581.4 1953.7 413.8 2323.0 1.8M1649.9 755.1C1835.2 544.4 2021.4 336.3 2328.2 2.2M1650.0 760.8C1809.1 583.3 1966.4 406.5 2333.8 2.2M1650.0 766.6C1913.9 473.7 2179.7 180.0 2339.6 1.8M1650.2 773.5C1924.9 468.4 2197.1 165.2 2344.9 1.6M1649.9 778.8C1907.2 493.8 2164.0 208.4 2350.5 1.4M1650.6 785.6C1844.7 568.9 2037.8 353.0 2355.1 1.9M1649.8 790.8C1852.1 563.7 2058.4 334.7 2360.4 1.4M1650.8 797.0C1837.9 587.3 2026.2 378.6 2366.3 2.4M1650.1 802.9C1825.8 604.4 2005.2 407.3 2371.1 2.5M1650.1 809.1C1915.3 516.9 2180.2 223.1 2377.0 2.0M1649.5 814.3C1838.1 608.3 2025.3 400.1 2382.5 2.0M1649.5 821.5C1894.9 549.5 2138.8 277.9 2387.1 1.4M1650.6 827.2C1927.4 522.7 2200.4 219.2 2392.5 2.2M1650.5 833.5C1850.1 608.7 2051.5 384.2 2397.4 1.9M1649.5 839.2C1857.5 607.9 2066.6 374.3 2404.0 1.3M1650.3 845.1C1877.0 597.9 2100.5 350.2 2408.5 1.9M1649.7 850.4C1892.1 581.0 2137.3 310.1 2413.8 2.2M1649.4 856.2C1820.2 667.5 1992.7 477.6 2419.4 2.2M1650.7 863.3C1911.6 571.9 2175.0 279.8 2425.0 2.4M1649.6 868.8C1807.4 691.5 1966.9 514.3 2429.9 1.3M1655.4 868.2C1850.7 652.3 2045.0 436.0 2436.3 1.9M1661.7 868.4C1891.2 616.2 2122.0 359.8 2439.3 3.9M1666.5 868.5C1901.0 605.8 2138.6 342.9 2438.5 10.6M1671.3 868.2C1832.6 693.6 1992.3 515.9 2439.6 15.6M1678.0 867.9C1860.8 663.1 2046.2 457.1 2439.6 21.7M1683.2 868.6C1913.9 611.0 2146.7 351.9 2438.4 28.6M1687.9 868.6C1947.3 580.3 2206.7 292.7 2439.0 34.7M1693.4 867.5C1887.7 655.8 2081.0 440.8 2439.7 40.9M1699.0 867.4C1858.4 688.8 2018.1 511.4 2438.6 45.4M1703.6 869.0C1988.7 556.5 2270.4 243.7 2439.3 52.2M1708.8 868.1C1874.4 683.1 2039.5 499.8 2439.5 58.5M1714.9 867.6C1864.6 701.1 2015.0 533.6 2438.9 63.7M1720.4 868.8C1898.7 669.6 2077.6 471.3 2438.2 69.8M1725.0 868.9C1915.4 661.2 2103.1 452.9 2439.4 75.7M1731.2 868.6C1977.2 595.8 2223.1 324.6 2439.8 81.4M1736.9 868.4C1909.4 678.1 2079.1 489.9 2439.2 88.2M1742.0 867.6C1963.3 620.6 2184.8 374.8 2438.8 93.8M1746.6 867.4C1945.8 646.2 2142.8 427.3 2438.8 99.5M1752.3 868.1C1889.4 710.3 2029.7 556.7 2438.6 105.5M1757.8 867.8C1988.0 612.1 2219.4 354.0 2439.1 112.7M1762.7 868.6C1994.7 613.2 2227.4 355.3 2439.6 118.6M1768.6 867.8C1988.5 627.4 2203.9 386.0 2438.7 124.0M1773.6 868.6C1950.4 671.6 2127.5 475.0 2439.2 129.2M1779.3 867.5C1964.2 661.0 2150.3 454.0 2439.2 136.4M1784.6 868.7C1984.0 647.2 2182.7 428.1 2438.5 141.3M1790.1 868.6C1938.6 706.0 2085.4 543.4 2439.6 147.6M1795.7 868.5C2044.1 590.8 2290.9 317.3 2438.8 154.0M1800.6 867.9C1987.6 662.8 2172.9 456.1 2438.9 159.0M1806.5 867.9C1967.1 689.2 2126.5 512.3 2439.5 166.1M1811.2 867.5C2022.2 630.5 2235.7 394.8 2439.1 171.5M1817.0 867.5C1969.8 695.0 2124.0 523.2 2439.2 177.4M1822.1 868.7C2057.3 611.8 2289.7 352.6 2438.6 183.0M1827.7 867.7C2072.9 599.0 2315.2 328.4 2439.2 189.8M1832.7 867.7C2017.7 663.2 2201.0 460.0 2439.4 196.2M1838.0 867.9C2016.9 671.0 2194.2 474.5 2438.7 202.1M1844.6 868.1C2046.6 644.4 2247.8 420.3 2438.5 207.4M1849.6 868.0C1983.5 719.7 2115.6 573.5 2439.6 214.2M1855.0 867.6C2060.5 637.2 2267.8 408.5 2438.9 219.5M1860.7 868.8C1986.3 724.7 2114.5 584.1 2438.8 225.2M1866.2 867.9C1996.0 721.5 2128.9 575.1 2438.8 231.7M1871.1 868.0C2028.3 690.5 2188.6 512.5 2438.3 236.9M1876.5 868.3C2099.8 621.2 2320.8 375.2 2439.7 242.8M1882.3 868.5C2008.5 725.9 2134.0 585.3 2439.4 248.8M1887.2 868.8C2055.3 681.9 2223.8 494.0 2439.7 255.8M1892.5 868.7C2076.9 663.8 2261.1 459.2 2439.1 261.8M1898.6 868.5C2061.2 687.1 2226.1 502.5 2439.3 267.8M1902.6 867.6C2047.4 704.3 2194.9 540.5 2438.9 272.6M1908.6 867.9C2109.7 642.9 2312.8 419.0 2439.4 279.8M1913.5 868.1C2029.5 744.0 2142.4 617.7 2438.6 284.5M1919.2 868.5C2054.0 721.3 2185.9 574.5 2439.3 291.6M1924.1 868.1C2076.5 700.6 2228.1 533.7 2439.6 297.7M1930.6 869.0C2082.5 700.1 2234.4 532.5 2439.2 302.6M1935.4 867.9C2121.5 661.1 2307.8 454.8 2438.3 309.2M1940.4 868.0C2112.3 674.8 2284.8 482.7 2438.2 315.8M1946.5 868.9C2071.4 731.1 2194.8 592.7 2438.2 321.0M1951.9 867.8C2142.6 658.6 2331.1 448.6 2438.3 327.4M1958.0 868.7C2088.6 726.0 2219.3 581.9 2439.1 332.7M1962.8 868.7C2105.1 706.7 2250.5 545.4 2439.6 338.3M1968.6 868.1C2111.9 708.6 2257.4 547.8 2438.2 344.4M1973.8 868.8C2135.0 691.4 2293.2 515.1 2439.2 350.8M1978.8 869.0C2072.3 764.3 2166.8 660.3 2438.6 356.9M1984.0 867.7C2165.3 668.5 2345.9 468.0 2438.5 362.3M1988.8 868.6C2136.2 704.0 2281.6 541.9 2439.4 368.9M1994.7 867.7C2124.9 722.6 2256.4 578.1 2439.1 374.6M1999.8 868.5C2107.8 748.0 2215.0 628.9 2439.2 381.5M2004.9 867.9C2110.5 751.1 2215.0 635.5 2439.3 386.1M2010.2 868.2C2104.7 766.1 2196.7 664.6 2439.7 392.6M2016.8 867.4C2152.7 716.6 2290.7 564.9 2438.3 398.5M2022.2 868.0C2155.0 720.2 2289.1 571.9 2439.7 405.5M2026.4 868.7C2169.7 710.8 2312.1 551.4 2439.7 410.8M2031.8 869.0C2116.6 777.1 2198.1 684.4 2438.4 417.1M2037.3 867.4C2181.4 706.6 2327.7 544.9 2438.6 423.3M2044.1 868.1C2133.0 771.8 2221.4 673.6 2439.4 429.4M2048.2 867.9C2203.1 698.0 2356.0 526.9 2438.4 435.5M2054.5 867.9C2168.4 740.6 2284.1 612.9 2438.7 441.2M2059.5 867.5C2190.4 721.7 2322.3 574.8 2439.3 447.0M2065.3 868.4C2186.3 733.3 2307.5 598.6 2438.4 453.2M2069.8 868.2C2188.5 735.1 2309.6 601.7 2439.7 458.7M2075.4 867.4C2195.1 735.7 2312.7 602.4 2438.6 464.8M2080.2 867.8C2163.3 777.8 2243.7 687.9 2438.6 470.3M2085.6 868.7C2186.9 757.9 2285.5 646.7 2439.6 476.5M2091.1 868.2C2174.6 773.5 2257.9 681.3 2439.3 482.7M2096.3 868.7C2208.9 747.0 2318.4 623.7 2438.5 488.2M2103.0 868.0C2182.9 777.2 2263.1 688.2 2438.6 494.3M2107.3 867.8C2180.1 788.4 2252.7 707.8 2439.4 500.0M2112.7 867.5C2214.0 758.5 2314.5 646.1 2438.5 506.6M2118.8 868.4C2217.4 761.0 2315.7 651.8 2439.1 512.1M2124.1 868.8C2247.8 732.7 2369.6 596.5 2439.2 519.2M2129.5 868.1C2250.1 734.0 2372.1 598.4 2439.0 524.2M2135.7 868.8C2237.5 751.8 2341.7 637.0 2438.9 530.1M2139.8 867.4C2201.5 799.2 2262.2 731.8 2438.7 536.3M2144.6 868.3C2236.7 769.1 2325.2 669.4 2439.5 542.3M2150.3 867.9C2255.8 754.1 2360.5 639.3 2439.2 549.2M2156.0 867.2C2249.8 764.2 2341.8 660.1 2439.5 554.0M2161.4 867.7C2254.4 765.1 2344.2 664.5 2440.0 559.4M2166.9 868.8C2232.4 797.0 2296.9 724.1 2438.7 566.9M2171.9 867.4C2249.6 780.1 2327.3 694.9 2439.2 573.0M2176.9 867.6C2239.0 802.1 2298.2 735.0 2439.8 579.2M2182.4 867.6C2265.5 776.5 2348.1 685.8 2438.9 583.3M2189.4 869.3C2275.5 774.4 2359.5 677.4 2438.9 589.5M2194.0 869.4C2279.0 774.3 2362.5 679.4 2439.0 596.8M2198.1 868.5C2255.9 804.2 2313.6 741.5 2438.3 603.0M2203.7 867.9C2265.0 805.2 2321.9 740.5 2439.0 608.1M2209.7 869.1C2260.6 811.5 2309.3 755.5 2438.4 614.4M2214.5 869.0C2302.6 769.3 2391.3 671.9 2438.0 619.2M2221.9 866.8C2268.5 814.4 2318.4 757.7 2440.0 624.9M2226.6 866.8C2301.5 783.6 2378.3 698.6 2437.9 631.2M2231.0 869.0C2301.7 792.8 2371.5 717.3 2438.3 638.1M2237.3 869.6C2312.8 784.2 2387.6 701.4 2438.9 644.5M2242.7 869.2C2282.4 824.6 2322.0 778.9 2439.0 650.0M2247.4 867.5C2294.8 817.5 2341.8 763.5 2437.7 656.3M2252.7 868.0C2290.7 824.3 2327.8 784.0 2439.6 662.1M2257.1 868.6C2299.5 826.0 2339.3 781.8 2438.9 667.9M2263.9 866.6C2308.5 816.2 2354.2 767.4 2438.9 675.2M2270.0 868.5C2330.9 803.1 2388.7 736.5 2440.1 680.1M2274.9 867.1C2310.8 830.4 2345.7 791.4 2440.0 684.4M2278.9 869.4C2326.4 815.3 2370.7 765.5 2440.5 692.1M2284.4 867.6C2343.0 803.9 2400.3 740.6 2439.5 699.1M2291.0 869.7C2344.4 807.6 2397.5 749.8 2440.7 703.8M2296.8 868.9C2350.4 807.5 2404.6 748.8 2438.0 708.5M2300.8 869.9C2341.2 825.0 2382.1 777.2 2439.0 717.0M2307.5 868.1C2355.9 815.7 2400.9 764.3 2437.5 720.9M2313.2 868.2C2358.6 816.3 2404.1 763.4 2437.2 729.6M2319.2 867.3C2364.8 818.3 2410.3 767.3 2438.1 734.9M2322.2 867.8C2357.7 826.0 2395.5 788.8 2439.0 739.7M2329.3 868.3C2371.1 821.4 2411.5 777.0 2438.4 747.3M2334.0 866.6C2372.2 822.6 2412.8 781.7 2440.0 751.0M2340.7 869.6C2362.1 842.6 2389.8 812.1 2438.7 757.9M2344.0 866.2C2373.8 836.1 2402.1 801.8 2437.3 765.1M2348.9 868.7C2372.6 840.7 2399.6 812.1 2440.0 771.3M2356.3 868.4C2386.7 834.8 2416.5 800.4 2437.7 774.8M2360.0 870.2C2379.2 843.0 2401.0 820.1 2440.8 780.8M2366.8 868.0C2385.7 847.5 2405.2 823.4 2438.9 785.9M2371.3 866.4C2388.8 849.2 2404.0 831.7 2439.6 791.9M2376.7 867.9C2392.3 850.6 2407.5 835.0 2437.8 797.9M2380.5 868.9C2399.6 850.2 2416.8 828.7 2438.3 805.5M2388.6 867.4C2400.5 853.9 2414.7 839.7 2438.7 809.6M2391.9 868.8C2403.1 858.8 2412.8 844.8 2437.7 815.9M2399.8 868.9C2411.8 853.7 2426.3 837.9 2437.4 822.7M2402.3 869.3C2419.1 852.4 2430.8 837.8 2438.0 828.1M2411.1 870.0C2417.4 862.5 2423.9 851.4 2437.5 837.1M2414.4 867.9C2422.3 858.2 2431.9 846.4 2440.5 841.5M2419.2 869.5C2426.1 860.9 2434.6 851.7 2437.3 847.1M2424.2 867.4C2430.7 862.6 2434.1 857.2 2437.3 854.0M2431.9 867.9C2433.5 865.3 2435.8 861.7 2439.9 859.3M2436.6 868.5C2436.9 867.5 2437.8 866.3 2438.6 865.3" fill="none" stroke="#ecf3fe" stroke-width="0.65"/>
</g>
<path d="M1768 1.8 L2321 1.8 Q2439 1.8 2439 119.8 L2439 750.1999999999999 Q2439 868.1999999999999 2321 868.1999999999999 L1768 868.1999999999999 Q1650 868.1999999999999 1650 750.1999999999999 L1650 119.8 Q1650 1.8 1768 1.8 Z" fill="none" stroke="#d0d0cc" stroke-width="1.7"/>
<path d="M1770.9 1.4 L2318.6000000000004 1.4 Q2438.6000000000004 1.4 2438.6000000000004 121.4 L2438.6000000000004 748.6999999999999 Q2438.6000000000004 868.6999999999999 2318.6000000000004 868.6999999999999 L1770.9 868.6999999999999 Q1650.9 868.6999999999999 1650.9 748.6999999999999 L1650.9 121.4 Q1650.9 1.4 1770.9 1.4 Z" fill="none" stroke="#d4d4d0" stroke-width="1.3"/>
<clipPath id="cp3"><path d="M337 171 L1383 171 Q1470 171 1470 258 L1470 663 Q1470 750 1383 750 L337 750 Q250 750 250 663 L250 258 Q250 171 337 171 Z"/></clipPath>
<g clip-path="url(#cp3)">
<path d="M249.4 175.0C251.1 174.6 252.4 173.6 254.0 170.4M249.7 175.6C251.6 173.5 253.1 171.7 254.0 170.8M250.5 188.2C256.9 180.9 260.9 175.8 266.3 172.3M250.8 188.3C256.1 181.4 261.0 176.3 265.4 171.6M250.6 199.5C259.0 189.1 263.0 182.6 273.9 172.4M249.3 199.9C255.7 193.1 261.1 187.3 276.4 171.0M250.8 209.8C262.0 200.7 273.4 186.7 285.7 169.4M250.7 210.7C258.4 202.8 265.8 194.1 285.7 170.7M249.2 224.7C263.6 207.2 277.2 191.6 297.9 170.4M250.9 222.8C265.7 207.3 280.7 188.1 296.5 170.3M249.1 235.3C270.1 211.2 294.4 188.0 306.8 171.4M249.2 235.3C262.5 221.2 275.9 207.3 308.0 170.4M248.3 246.8C265.1 228.6 283.7 210.9 319.6 172.1M249.9 247.2C267.7 227.2 285.6 207.7 318.2 171.7M248.1 261.0C280.5 221.6 314.3 187.1 330.4 169.0M249.9 258.8C268.6 240.0 286.9 220.9 328.7 171.8M248.7 270.4C282.9 231.9 318.6 194.5 341.2 171.3M250.0 271.4C283.2 234.3 316.5 197.8 340.3 170.3M250.5 283.2C276.5 254.2 301.8 225.6 351.9 169.3M249.5 282.5C280.5 249.8 311.2 215.9 351.4 170.5M250.5 293.5C286.0 255.5 321.3 216.1 363.3 171.5M249.6 295.4C273.9 268.3 296.3 241.6 361.1 171.6M251.2 308.9C293.2 260.4 333.6 214.9 372.0 171.0M250.7 307.6C288.1 266.9 324.6 225.7 372.7 170.0M249.9 317.2C286.1 278.3 323.6 235.5 384.4 172.5M249.9 319.8C282.3 282.4 314.9 243.9 382.7 170.2M250.6 329.8C303.9 270.8 355.8 211.6 395.1 172.0M249.3 330.6C295.4 280.8 339.9 229.7 393.9 170.2M251.3 341.6C283.3 308.9 314.2 272.1 406.4 171.4M250.8 342.5C291.4 295.5 334.7 248.8 405.0 170.5M251.1 353.5C315.5 282.5 382.0 209.0 414.0 170.9M249.9 354.8C291.8 309.1 333.3 261.4 415.0 170.4M249.6 368.0C315.0 296.9 380.6 222.4 424.9 170.2M250.0 367.0C303.9 308.0 357.2 249.1 425.6 170.4M250.9 379.7C316.6 304.6 384.4 229.2 435.6 172.4M249.3 378.1C294.6 326.7 340.3 276.8 436.6 171.0M250.6 391.0C295.4 338.2 345.5 283.8 448.0 171.0M250.0 390.2C318.6 314.2 389.3 237.4 447.3 171.0M250.0 403.1C316.9 329.4 382.6 256.5 457.4 170.3M249.7 403.3C305.6 341.6 360.3 281.5 458.1 171.2M250.8 414.1C335.4 318.8 422.0 222.2 469.2 171.6M249.6 414.4C331.0 321.1 414.5 228.8 469.3 170.5M250.5 426.1C325.1 343.7 403.1 259.3 479.5 170.4M250.2 426.6C328.7 338.1 407.2 252.4 479.6 171.1M250.8 439.1C299.5 379.4 351.1 322.5 489.8 170.2M249.7 439.1C304.7 374.3 361.5 312.4 490.3 171.4M248.9 449.5C327.2 364.7 405.0 277.6 501.1 170.3M250.3 449.9C342.4 347.8 435.9 244.9 501.8 170.6M248.9 463.2C305.2 400.7 359.0 340.6 513.3 171.3M249.5 462.4C328.5 373.9 408.0 285.4 512.1 171.3M249.2 474.4C353.7 359.5 455.9 243.8 524.1 171.2M250.1 474.2C341.3 375.4 431.4 275.0 523.4 170.6M249.3 485.4C363.5 360.6 476.8 233.7 533.9 171.6M250.3 485.8C341.9 384.1 434.5 280.5 534.1 171.4M249.2 499.0C314.3 426.6 376.3 355.7 544.1 170.8M250.5 498.2C349.3 385.8 449.7 274.1 544.3 171.3M250.0 509.3C318.0 434.9 386.6 358.1 555.4 170.8M249.6 510.3C374.0 375.7 495.4 239.9 555.3 171.5M249.9 522.2C357.4 403.1 464.8 282.9 567.1 170.8M250.2 522.1C344.6 415.2 439.8 309.3 565.9 170.7M250.6 533.4C338.4 438.0 426.3 339.6 577.7 170.9M250.1 534.3C372.5 398.2 494.1 263.9 577.1 170.7M250.5 546.8C354.8 429.0 460.3 311.5 587.1 170.3M249.9 546.4C337.5 449.3 424.2 353.2 587.7 170.8M249.3 558.2C359.3 435.9 468.7 315.7 599.3 170.8M250.1 557.8C385.2 406.4 521.6 255.3 598.6 171.2M249.3 569.5C363.2 446.3 473.2 322.8 608.5 171.2M250.3 569.6C339.3 471.6 427.4 373.5 608.9 170.9M249.7 582.5C363.8 455.7 476.0 330.1 620.6 170.4M250.0 582.3C342.6 481.2 432.9 380.3 620.2 171.0M249.5 593.9C338.5 495.9 426.2 398.2 630.5 171.7M250.3 593.6C328.6 508.6 406.4 422.4 630.4 171.0M250.4 606.0C346.1 500.4 441.4 395.4 641.9 171.0M249.8 605.6C402.0 436.3 555.5 265.8 641.6 170.9M250.0 617.2C383.0 470.0 517.5 321.3 653.0 171.1M249.9 617.5C377.0 473.9 505.4 332.0 652.4 171.4M249.6 629.1C382.3 481.9 514.1 334.6 662.7 170.6M250.3 629.7C404.5 456.7 559.4 284.9 663.4 170.8M250.3 642.2C395.9 483.1 541.6 320.9 674.3 171.6M249.8 641.6C345.1 534.6 441.6 426.9 673.9 171.2M249.2 653.1C397.0 488.9 545.1 324.7 684.6 170.2M249.7 653.8C338.3 552.3 428.6 452.4 685.0 171.1M249.7 666.3C422.6 475.8 593.1 285.4 695.4 171.5M250.2 665.5C344.2 560.9 438.2 456.2 695.7 170.9M249.6 677.2C389.1 522.0 528.0 367.9 706.1 171.4M250.1 677.3C381.1 535.0 509.6 391.4 705.9 170.9M249.6 689.6C405.7 518.6 559.8 347.6 716.2 171.3M249.9 689.8C387.3 534.1 525.6 380.4 716.9 171.0M250.3 701.7C392.9 543.3 537.4 384.4 727.3 171.1M249.7 701.3C379.0 554.0 510.2 408.5 728.0 170.7M249.4 713.3C351.7 603.2 452.9 492.3 738.3 171.2M250.3 713.2C359.9 589.4 470.9 466.5 738.1 171.1M249.7 724.6C351.4 611.6 453.4 497.2 748.9 171.5M250.4 725.4C447.1 508.1 643.9 290.3 749.2 171.3M250.8 737.8C393.5 578.0 536.7 419.6 760.0 170.8M249.6 737.8C352.4 624.2 454.9 509.7 760.2 171.1M250.5 749.7C424.2 557.6 599.0 364.0 770.7 171.0M250.2 749.2C429.9 549.1 610.8 348.7 770.9 170.9M259.4 750.1C402.0 592.4 542.9 436.7 782.3 171.4M259.8 750.3C438.5 551.5 617.2 352.2 781.5 170.9M271.1 750.8C427.1 575.0 582.2 402.8 792.4 171.1M270.8 750.2C453.2 547.9 635.0 346.2 791.9 171.3M282.3 749.8C440.8 571.9 599.4 396.0 802.8 170.9M282.0 749.6C425.3 592.4 567.4 434.0 802.9 171.2M292.0 749.6C489.0 533.2 683.7 316.2 813.3 170.2M292.5 749.9C433.4 594.3 575.0 437.2 814.0 170.9M303.3 750.3C409.3 631.0 516.0 511.6 824.7 170.9M302.8 750.1C500.2 528.8 699.4 307.6 824.8 170.8M313.6 750.0C447.3 606.2 576.7 461.6 835.5 170.8M314.0 750.2C489.4 558.2 664.0 364.8 835.7 171.2M324.1 749.8C446.8 618.1 567.6 483.3 846.2 171.0M325.0 749.8C497.3 558.8 670.5 366.8 846.0 170.9M335.0 750.0C462.0 608.8 589.0 467.9 856.8 170.5M335.3 749.8C506.2 560.8 678.3 370.1 856.8 171.0M345.6 749.8C471.2 609.6 596.6 469.9 866.9 171.3M346.5 749.8C502.5 573.8 660.2 398.8 867.8 171.0M357.5 749.4C500.3 592.4 642.8 435.0 878.2 171.8M357.1 750.0C553.4 533.2 748.6 316.0 878.4 171.0M367.7 749.5C535.7 565.4 700.6 382.3 889.3 171.7M367.9 749.8C478.3 628.8 588.5 506.9 889.1 171.0M377.9 749.3C483.4 633.7 589.0 516.5 899.4 171.4M378.9 749.7C575.1 534.8 770.6 317.6 899.6 171.2M389.2 750.0C586.9 527.5 784.8 306.1 910.2 170.4M389.7 750.2C591.3 526.9 792.4 303.6 911.0 170.9M400.7 749.3C607.3 523.6 812.2 295.5 921.3 171.8M400.0 750.2C560.7 567.9 722.6 387.5 921.6 170.8M410.2 750.6C526.9 623.8 641.6 496.1 931.7 170.9M410.7 749.6C576.9 562.4 744.4 376.4 932.4 171.1M421.9 749.4C612.8 537.4 802.9 327.0 942.6 171.0M421.9 750.2C576.4 577.1 733.4 402.8 943.0 170.6M432.6 749.8C558.8 610.8 686.8 469.3 953.6 171.1M432.1 750.3C637.1 519.3 844.6 289.5 953.9 171.1M443.4 750.8C563.2 612.9 684.8 478.7 964.8 170.3M442.9 750.0C585.0 591.6 728.1 432.9 964.3 171.3M453.4 750.2C568.8 621.4 683.7 492.9 975.8 171.2M453.6 750.0C584.4 604.3 713.7 460.1 975.5 171.0M464.0 750.5C600.0 601.8 734.0 452.0 985.7 171.0M465.1 750.1C647.0 545.3 830.3 342.3 986.3 170.6M475.5 750.2C582.6 627.9 693.0 506.3 997.2 171.3M475.2 749.9C598.8 611.9 721.5 475.0 996.8 171.0M485.9 750.4C680.3 536.3 871.3 323.8 1007.9 171.1M486.4 750.2C666.0 549.2 848.0 347.1 1007.6 171.4M496.9 750.1C692.6 532.2 889.3 313.7 1018.4 170.4M497.0 750.1C619.9 616.5 742.1 480.9 1018.0 170.9M507.2 750.2C615.6 630.6 722.9 512.6 1029.8 171.7M507.6 749.9C651.3 587.2 796.8 425.3 1029.2 171.1M518.9 749.9C666.1 588.1 811.8 423.8 1040.6 170.5M518.1 749.9C708.2 540.7 896.9 330.8 1040.2 171.2M529.6 749.7C660.5 604.9 791.3 459.2 1051.0 171.0M529.1 749.9C640.1 627.3 749.9 505.5 1050.3 171.3M539.9 750.2C654.6 622.7 767.4 495.7 1062.0 171.2M540.2 750.1C723.8 547.3 906.2 344.6 1061.7 171.0M550.5 750.3C738.7 541.9 925.0 335.8 1072.5 171.7M550.6 750.2C700.2 584.9 847.3 421.1 1072.3 171.0M562.3 749.2C756.2 532.0 951.8 314.6 1082.3 171.1M561.4 749.7C694.8 603.1 826.9 456.1 1082.6 170.8M573.0 749.4C706.7 601.9 839.8 453.0 1093.6 171.6M572.2 750.3C757.6 546.0 943.1 339.9 1093.8 171.1M582.7 750.0C699.3 619.7 815.4 490.6 1105.1 171.3M583.0 750.3C792.2 518.8 1000.4 287.3 1104.3 171.3M593.6 750.1C734.9 591.8 877.2 433.4 1115.4 170.4M593.7 750.2C784.2 537.1 975.6 325.4 1115.3 171.3M605.3 750.3C781.9 551.7 958.1 355.9 1126.5 171.2M604.6 749.8C756.2 582.1 909.0 412.8 1125.9 170.7M615.3 749.2C718.8 632.0 825.7 514.8 1136.4 171.0M615.5 750.4C780.4 567.0 944.5 384.8 1136.5 170.6M626.7 750.5C814.9 539.8 1004.6 330.6 1147.7 170.9M626.2 750.0C815.8 539.7 1006.4 328.6 1147.1 170.9M637.2 750.1C822.5 544.7 1007.3 340.4 1158.4 171.0M637.1 750.3C818.1 548.7 997.9 349.2 1158.4 170.9M648.0 749.4C851.7 524.3 1054.7 298.5 1168.4 171.1M647.9 750.2C777.5 607.3 906.3 464.0 1168.7 171.2M658.7 750.5C817.8 569.2 978.4 390.7 1180.1 171.2M658.4 749.7C816.7 573.4 974.3 398.5 1179.7 170.7M669.7 749.6C825.7 577.1 980.2 405.3 1190.1 171.4M669.0 750.3C802.8 603.0 935.0 454.7 1190.5 171.2M680.3 749.6C839.0 568.1 1000.3 390.1 1201.0 170.5M679.7 749.9C838.4 571.5 999.0 393.0 1201.6 170.8M690.8 750.2C839.3 583.3 990.5 415.8 1212.2 171.4M690.5 749.9C853.7 567.9 1018.1 386.1 1212.1 171.2M700.8 750.6C814.5 626.3 926.2 501.9 1222.6 170.9M701.9 750.2C886.2 544.4 1070.7 339.4 1222.8 171.3M711.7 750.1C919.9 519.2 1126.8 289.1 1234.0 170.7M712.6 750.0C877.2 567.0 1043.8 382.6 1233.4 170.7M723.5 750.4C850.6 608.0 978.6 465.4 1244.6 170.6M723.1 750.3C898.6 554.8 1072.4 362.2 1244.3 171.2M734.6 750.7C916.4 548.0 1100.8 343.3 1254.7 170.6M734.0 749.6C890.9 578.5 1046.3 405.9 1255.1 170.8M744.3 750.7C848.6 633.0 954.1 515.2 1266.5 171.5M744.2 749.7C932.3 540.6 1121.7 330.2 1265.7 171.1M754.8 750.5C905.2 584.6 1052.5 420.1 1276.1 171.3M755.2 749.7C898.2 591.8 1040.6 433.4 1276.4 170.8M765.4 750.7C886.8 615.4 1007.0 480.7 1286.8 170.6M766.4 750.3C961.9 531.6 1157.5 314.9 1287.2 170.6M776.5 750.2C936.0 574.1 1097.0 395.9 1297.6 171.1M776.9 749.8C913.6 599.3 1049.2 449.0 1298.3 170.8M787.8 750.1C939.3 580.5 1092.7 410.9 1309.1 171.1M787.9 749.7C955.6 561.7 1124.8 373.4 1309.0 170.9M798.9 750.6C919.5 615.5 1040.3 479.6 1319.6 171.1M798.6 749.8C984.8 546.7 1169.0 341.4 1320.0 170.8M809.3 750.3C1015.3 525.7 1218.6 297.8 1330.6 170.8M809.0 750.2C955.3 586.6 1101.1 424.8 1330.3 170.8M819.3 750.2C996.1 553.7 1174.0 355.8 1340.5 171.5M819.9 750.3C1016.5 535.2 1211.0 318.9 1340.9 171.1M830.5 750.7C1035.9 519.6 1241.3 292.3 1351.6 170.8M830.6 750.0C1014.7 543.1 1199.9 338.0 1352.4 171.2M840.9 750.5C1006.8 571.0 1169.5 389.1 1362.7 170.8M841.3 749.7C1038.8 528.0 1237.8 307.2 1362.7 170.8M851.4 750.1C1047.8 534.8 1243.5 317.3 1373.8 171.1M852.5 750.3C977.8 607.1 1104.3 466.3 1373.8 170.7M863.8 749.7C990.3 607.6 1119.6 465.1 1384.4 171.2M863.4 750.4C1055.6 536.5 1247.4 323.8 1384.5 171.1M873.3 749.4C1017.2 589.7 1161.2 429.6 1394.9 170.9M873.7 750.0C1079.8 521.1 1285.4 292.3 1394.8 170.8M884.4 750.1C998.5 626.2 1112.6 499.8 1405.7 171.5M884.3 750.2C1061.3 555.1 1236.2 361.2 1405.6 170.8M895.2 750.3C1099.1 527.5 1299.7 302.5 1416.2 170.2M895.0 749.8C1027.4 601.5 1159.3 454.1 1416.3 170.8M906.6 749.2C1076.3 562.7 1245.3 376.0 1427.7 170.9M906.4 750.0C1045.1 595.4 1184.5 440.3 1427.5 171.1M917.6 750.5C1126.2 518.3 1334.0 287.0 1438.0 170.9M916.5 750.1C1048.0 604.0 1178.6 458.4 1438.1 171.1M926.9 749.3C1074.4 586.8 1221.9 422.5 1448.5 170.4M927.3 749.8C1098.2 560.0 1269.6 369.5 1448.8 170.6M937.7 749.7C1062.0 609.6 1187.0 470.8 1459.7 170.6M938.5 750.3C1045.9 628.9 1152.8 509.1 1459.8 170.9M949.4 749.7C1077.9 608.3 1204.1 467.0 1469.6 172.1M949.1 749.9C1134.5 542.5 1322.5 334.3 1470.3 171.5M960.6 750.5C1127.1 561.9 1297.1 373.5 1469.6 183.0M960.1 750.0C1071.1 622.7 1183.8 497.2 1469.7 183.3M970.2 749.6C1106.1 600.8 1240.4 451.7 1469.5 195.4M970.6 750.1C1152.1 547.5 1335.8 344.4 1470.0 195.5M981.8 750.4C1131.3 586.3 1281.2 420.3 1470.5 208.1M981.6 750.2C1080.8 637.4 1182.4 524.7 1469.9 207.3M991.9 750.4C1112.0 614.8 1234.3 479.7 1470.2 220.1M992.2 749.8C1154.2 570.0 1316.6 390.2 1470.1 219.3M1003.7 750.4C1132.2 604.4 1262.0 460.5 1469.9 231.1M1002.8 750.2C1101.5 639.4 1199.7 529.9 1470.1 231.3M1014.4 750.2C1192.9 551.4 1372.1 351.3 1470.6 243.2M1013.5 750.2C1179.4 567.4 1343.7 384.6 1469.8 243.4M1024.4 750.8C1142.8 620.4 1260.6 491.0 1469.9 255.0M1024.6 749.7C1135.0 628.6 1244.3 507.5 1470.1 255.4M1034.8 750.2C1158.3 615.3 1280.7 480.9 1469.8 267.2M1035.4 750.0C1181.3 589.0 1326.5 427.4 1469.8 266.9M1046.0 750.3C1174.4 607.1 1303.3 462.0 1470.1 279.4M1045.8 750.2C1163.9 620.2 1280.9 490.1 1469.7 279.3M1057.4 749.6C1180.9 608.5 1307.5 467.7 1469.5 291.4M1056.8 750.0C1145.8 652.3 1232.2 555.5 1469.9 291.0M1067.2 749.5C1174.8 633.1 1280.0 516.4 1470.3 302.5M1067.4 750.3C1223.3 573.9 1380.3 399.9 1470.0 303.4M1078.0 750.7C1216.6 593.2 1357.0 436.9 1469.9 314.3M1078.1 750.2C1205.5 608.1 1333.6 466.5 1469.8 314.8M1088.9 750.3C1197.6 625.6 1308.7 503.7 1469.4 326.2M1088.7 749.7C1231.2 594.6 1372.6 437.6 1470.0 326.8M1099.0 750.7C1217.6 619.8 1334.5 489.7 1469.6 339.1M1099.8 750.0C1230.3 602.1 1362.2 456.4 1469.6 339.1M1110.9 750.0C1205.1 645.0 1299.7 538.8 1470.7 350.2M1110.9 749.8C1210.9 639.7 1311.0 528.3 1469.7 350.8M1121.6 749.4C1242.3 613.9 1363.7 478.8 1469.4 362.9M1121.5 750.2C1210.8 650.7 1299.4 552.1 1469.9 362.6M1131.7 749.6C1241.0 629.4 1348.1 509.0 1470.4 374.2M1131.8 750.3C1249.6 619.6 1365.4 491.1 1470.3 374.6M1143.2 749.9C1259.9 620.4 1378.7 488.6 1469.9 387.0M1143.3 749.7C1233.1 650.3 1323.5 551.1 1469.6 386.8M1153.7 750.9C1227.4 670.8 1299.3 591.4 1469.2 399.4M1154.0 750.0C1232.7 661.3 1313.3 572.3 1470.1 399.1M1164.9 750.2C1257.6 646.6 1350.6 543.3 1469.5 410.4M1164.0 750.2C1276.7 624.5 1389.5 499.0 1470.3 410.9M1175.0 751.0C1289.5 621.9 1405.7 492.9 1469.6 422.8M1174.9 749.6C1236.9 680.2 1299.9 610.0 1469.9 422.6M1186.1 749.2C1247.8 679.7 1308.4 611.1 1470.1 433.9M1185.6 750.2C1260.2 668.1 1332.6 587.3 1470.3 434.7M1196.7 749.3C1254.9 686.0 1314.4 619.8 1469.0 446.4M1197.0 750.2C1301.7 633.9 1406.1 517.6 1469.6 446.2M1208.1 749.6C1296.3 649.5 1386.0 549.4 1469.5 458.2M1207.0 750.5C1294.1 653.7 1380.8 556.9 1470.4 458.7M1218.8 750.8C1301.8 659.3 1384.3 569.5 1470.6 469.5M1217.9 750.5C1279.6 681.7 1340.1 614.4 1470.5 469.8M1228.3 751.2C1298.6 675.4 1366.9 600.8 1470.9 482.9M1229.1 750.6C1304.1 666.0 1380.4 581.5 1470.4 482.1M1239.1 750.9C1304.0 678.5 1367.1 606.7 1471.0 495.3M1239.8 749.6C1316.9 663.4 1395.6 575.3 1469.7 494.0M1249.7 749.6C1333.8 658.4 1413.5 569.0 1470.7 505.1M1250.3 750.2C1324.3 667.5 1398.8 585.7 1470.3 505.7M1262.4 750.5C1334.0 668.8 1407.7 588.0 1469.3 516.9M1262.0 749.7C1309.8 696.7 1358.5 642.2 1469.5 518.7M1270.8 749.3C1349.5 665.8 1423.5 581.9 1468.6 531.0M1272.7 750.5C1343.5 672.7 1414.3 595.1 1469.3 530.9M1283.1 750.4C1346.0 677.4 1411.9 606.2 1469.1 540.8M1282.8 750.4C1343.9 684.1 1402.0 617.4 1470.5 541.9M1292.8 750.7C1361.8 673.5 1431.6 598.8 1468.9 553.0M1293.9 750.5C1335.1 702.0 1377.5 654.3 1470.2 553.7M1305.0 749.1C1365.2 683.8 1422.7 616.8 1470.5 567.1M1304.8 750.6C1359.1 687.8 1414.0 625.5 1469.3 565.4M1316.2 749.2C1360.2 703.1 1400.9 654.4 1469.0 576.5M1314.3 750.5C1354.4 709.9 1390.9 666.5 1470.6 577.8M1325.3 748.8C1362.8 707.6 1404.3 662.2 1469.0 590.0M1325.5 749.3C1362.3 710.0 1398.3 669.0 1470.5 590.1M1338.6 749.2C1371.2 709.2 1408.6 669.9 1470.2 602.0M1336.0 749.5C1386.7 695.9 1438.1 639.6 1469.9 602.0M1347.0 751.0C1377.9 718.8 1406.4 683.2 1471.3 613.6M1346.9 750.5C1376.7 718.0 1406.0 684.2 1470.6 614.4M1358.2 751.3C1397.2 708.7 1434.7 664.7 1468.2 627.2M1358.6 750.4C1382.3 725.8 1403.9 699.1 1469.2 625.5M1368.9 748.2C1391.9 724.1 1413.6 699.2 1469.1 636.3M1369.4 749.5C1399.7 715.4 1431.3 680.8 1469.7 637.1M1380.5 750.6C1399.6 726.0 1421.5 704.9 1469.8 648.8M1380.3 749.2C1403.8 722.1 1427.9 694.6 1469.8 650.0M1391.9 749.7C1413.4 725.3 1433.6 702.4 1470.5 662.6M1391.0 750.9C1414.0 722.0 1439.3 696.2 1470.8 661.6M1399.9 748.7C1419.2 728.5 1439.0 707.1 1468.1 673.0M1402.1 750.3C1423.6 727.7 1443.4 703.0 1469.1 673.8M1413.1 750.2C1433.5 725.2 1455.2 703.3 1470.8 687.2M1411.8 749.7C1424.7 736.2 1435.7 722.4 1469.3 684.6M1420.8 748.5C1434.4 739.2 1444.7 728.2 1471.8 698.3M1423.4 750.3C1435.9 735.1 1449.7 722.1 1469.5 698.6M1434.4 751.7C1443.8 736.8 1454.7 724.2 1468.9 709.2M1433.1 749.8C1441.8 739.3 1450.6 729.2 1470.3 708.6M1443.5 749.6C1451.4 740.8 1457.5 731.7 1468.6 720.3M1443.7 750.0C1451.8 742.3 1458.7 735.3 1469.9 720.9M1454.2 748.3C1456.8 748.2 1461.1 744.5 1471.4 732.4M1455.3 750.9C1458.5 745.9 1463.2 742.7 1470.9 733.8M1466.4 750.1C1467.4 749.5 1467.6 748.4 1469.7 745.0M1465.7 750.0C1467.1 749.0 1468.2 747.5 1469.8 745.4" fill="none" stroke="#ffeec6" stroke-width="0.75"/>
</g>
<path d="M337 171 L1383 171 Q1470 171 1470 258 L1470 663 Q1470 750 1383 750 L337 750 Q250 750 250 663 L250 258 Q250 171 337 171 Z" fill="none" stroke="#d0d0cc" stroke-width="1.7"/>
<path d="M339.9 170.6 L1380.6000000000001 170.6 Q1469.6000000000001 170.6 1469.6000000000001 259.6 Q1472.6000000000001 460.55 1469.6000000000001 661.5 Q1469.6000000000001 750.5 1380.6000000000001 750.5 Q860.25 759.5 339.9 750.5 Q250.9 750.5 250.9 661.5 L250.9 259.6 Q250.9 170.6 339.9 170.6 Z" fill="none" stroke="#d4d4d0" stroke-width="1.3"/>
<path d="M800.5 111 L800.5 165.5" fill="none" stroke="#000" stroke-width="1"/>
<path d="M800.50 171.00 L796.30 163.00 L800.50 165.10 L804.70 163.00 Z" fill="#000" stroke="none" stroke-width="1"/>
<path d="M739.5 273 L739.50 301.50 Q739.5 311.5 729.50 311.50 L380.50 311.50 Q370.5 311.5 370.50 321.50 L370.5 365.5" fill="none" stroke="#000" stroke-width="1"/>
<path d="M370.50 371.00 L366.30 363.00 L370.50 365.10 L374.70 363.00 Z" fill="#000" stroke="none" stroke-width="1"/>
<path d="M800.5 273 L800.5 365.5" fill="none" stroke="#000" stroke-width="1"/>
<path d="M800.50 371.00 L796.30 363.00 L800.50 365.10 L804.70 363.00 Z" fill="#000" stroke="none" stroke-width="1"/>
<path d="M860.5 273 L860.50 301.50 Q860.5 311.5 870.50 311.50 L1215.50 311.50 Q1225.5 311.5 1225.50 321.50 L1225.5 364.5" fill="none" stroke="#000" stroke-width="1"/>
<path d="M1225.50 370.00 L1221.30 362.00 L1225.50 364.10 L1229.70 362.00 Z" fill="#000" stroke="none" stroke-width="1"/>
<path d="M720 411.5 L456.5 411.5" fill="none" stroke="#000" stroke-width="1"/>
<path d="M451.00 411.50 L459.00 407.30 L456.90 411.50 L459.00 415.70 Z" fill="#000" stroke="none" stroke-width="1"/>
<path d="M880 411.5 L1144.50003772252 410.5203702306573" fill="none" stroke="#000" stroke-width="1"/>
<path d="M1150.00 410.50 L1142.02 414.73 L1144.10 410.52 L1141.98 406.33 Z" fill="#000" stroke="none" stroke-width="1"/>
<path d="M1818 231.5 L887.1 231.5" fill="none" stroke="#000" stroke-width="1"/>
<path d="M881.60 231.50 L889.60 227.30 L887.50 231.50 L889.60 235.70 Z" fill="#000" stroke="none" stroke-width="1"/>
<path d="M1820 410.5 L1316.5 410.5" fill="none" stroke="#000" stroke-width="1"/>
<path d="M1311.00 410.50 L1319.00 406.30 L1316.90 410.50 L1319.00 414.70 Z" fill="#000" stroke="none" stroke-width="1"/>
<path d="M1900.5 370 L1900.5 277.9" fill="none" stroke="#000" stroke-width="1"/>
<path d="M1900.50 272.40 L1904.70 280.40 L1900.50 278.30 L1896.30 280.40 Z" fill="#000" stroke="none" stroke-width="1"/>
<path d="M1940.5 273 L1940.50 291.50 Q1940.5 301.5 1950.50 301.50 L2260.50 301.50 Q2270.5 301.5 2270.50 311.50 L2270.5 366.5" fill="none" stroke="#000" stroke-width="1"/>
<path d="M2270.50 372.00 L2266.30 364.00 L2270.50 366.10 L2274.70 364.00 Z" fill="#000" stroke="none" stroke-width="1"/>
<path d="M1900.5 450 L1900.5 545.5" fill="none" stroke="#000" stroke-width="1"/>
<path d="M1900.50 551.00 L1896.30 543.00 L1900.50 545.10 L1904.70 543.00 Z" fill="#000" stroke="none" stroke-width="1"/>
<path d="M2270.5 452 L2270.5 545.5" fill="none" stroke="#000" stroke-width="1"/>
<path d="M2270.50 551.00 L2266.30 543.00 L2270.50 545.10 L2274.70 543.00 Z" fill="#000" stroke="none" stroke-width="1"/>
<path d="M2170 571.5 L2006.5 571.5" fill="none" stroke="#000" stroke-width="1"/>
<path d="M2001.00 571.50 L2009.00 567.30 L2006.90 571.50 L2009.00 575.70 Z" fill="#000" stroke="none" stroke-width="1"/>
<path d="M370.5 451 L370.5 545.5" fill="none" stroke="#000" stroke-width="1"/>
<path d="M370.50 551.00 L366.30 543.00 L370.50 545.10 L374.70 543.00 Z" fill="#000" stroke="none" stroke-width="1"/>
<path d="M760.5 452 L760.50 471.50 Q760.5 481.5 750.50 481.50 L710.50 481.50 Q700.5 481.5 700.50 491.50 L700.5 545.5" fill="none" stroke="#000" stroke-width="1"/>
<path d="M700.50 551.00 L696.30 543.00 L700.50 545.10 L704.70 543.00 Z" fill="#000" stroke="none" stroke-width="1"/>
<path d="M840.5 452 L840.50 471.50 Q840.5 481.5 850.50 481.50 L890.50 481.50 Q900.5 481.5 900.50 491.50 L900.5 545.5" fill="none" stroke="#000" stroke-width="1"/>
<path d="M900.50 551.00 L896.30 543.00 L900.50 545.10 L904.70 543.00 Z" fill="#000" stroke="none" stroke-width="1"/>
<path d="M1190.5 450 L1190.50 471.50 Q1190.5 481.5 1180.50 481.50 L1132.50 481.50 Q1122.5 481.5 1122.50 491.50 L1122.5 545.5" fill="none" stroke="#000" stroke-width="1"/>
<path d="M1122.50 551.00 L1118.30 543.00 L1122.50 545.10 L1126.70 543.00 Z" fill="#000" stroke="none" stroke-width="1"/>
<path d="M1270.5 450 L1270.50 471.50 Q1270.5 481.5 1280.50 481.50 L1317.50 481.50 Q1327.5 481.5 1327.50 491.50 L1327.5 545.5" fill="none" stroke="#000" stroke-width="1"/>
<path d="M1327.50 551.00 L1323.30 543.00 L1327.50 545.10 L1331.70 543.00 Z" fill="#000" stroke="none" stroke-width="1"/>
<path d="M1800 561.5 L1426.5 561.5" fill="none" stroke="#000" stroke-width="1"/>
<path d="M1421.00 561.50 L1429.00 557.30 L1426.90 561.50 L1429.00 565.70 Z" fill="#000" stroke="none" stroke-width="1"/>
<path d="M1122.5 631 L1122.50 641.50 Q1122.5 651.5 1132.50 651.50 L1570.50 651.50 Q1580.5 651.5 1580.50 641.50 L1580.50 581.50 Q1580.5 571.5 1590.50 571.50 L1794.5 571.5" fill="none" stroke="#000" stroke-width="1"/>
<path d="M1800.00 571.50 L1792.00 575.70 L1794.10 571.50 L1792.00 567.30 Z" fill="#000" stroke="none" stroke-width="1"/>
<path d="M410.5 451 L410.50 471.50 Q410.5 481.5 420.50 481.50 L530.50 481.50 Q540.5 481.5 540.50 491.50 L540.50 671.50 Q540.5 681.5 550.50 681.50 L1590.50 681.50 Q1600.5 681.5 1600.50 671.50 L1600.50 601.50 Q1600.5 591.5 1610.50 591.50 L1794.5 591.5" fill="none" stroke="#000" stroke-width="1"/>
<path d="M1800.00 591.50 L1792.00 595.70 L1794.10 591.50 L1792.00 587.30 Z" fill="#000" stroke="none" stroke-width="1"/>
<path d="M370.5 631 L370.50 701.50 Q370.5 711.5 380.50 711.50 L1610.50 711.50 Q1620.5 711.5 1620.50 701.50 L1620.50 621.50 Q1620.5 611.5 1630.50 611.50 L1794.5 611.5" fill="none" stroke="#000" stroke-width="1"/>
<path d="M1800.00 611.50 L1792.00 615.70 L1794.10 611.50 L1792.00 607.30 Z" fill="#000" stroke="none" stroke-width="1"/>
<path d="M1740.5 777 L1740.50 691.50 Q1740.5 681.5 1750.50 681.50 L1893.75 681.50 Q1900.5 681.5 1900.50 674.75 L1900.5 668" fill="none" stroke="#000" stroke-width="1"/>
<path d="M1820.5 691 L1820.50 686.25 Q1820.5 681.5 1825.25 681.50 L1893.75 681.50 Q1900.5 681.5 1900.50 674.75 L1900.5 668" fill="none" stroke="#000" stroke-width="1"/>
<path d="M1980.5 691 L1980.50 686.25 Q1980.5 681.5 1975.75 681.50 L1907.25 681.50 Q1900.5 681.5 1900.50 674.75 L1900.5 668" fill="none" stroke="#000" stroke-width="1"/>
<path d="M2060.5 777 L2060.50 691.50 Q2060.5 681.5 2050.50 681.50 L1907.25 681.50 Q1900.5 681.5 1900.50 674.75 L1900.5 668" fill="none" stroke="#000" stroke-width="1"/>
<path d="M1900.5 777 L1900.5 650" fill="none" stroke="#000" stroke-width="1"/>
<path d="M1900.5 632.5 L1909.5 650 L1891.5 650 Z" fill="#fff" stroke="#000" stroke-width="1.3"/>
<path d="M40 501.5 L2400.7 491.8" stroke="#000" stroke-width="4.1" fill="none"/>
<rect x="1217" y="490.2" width="7" height="7.3" fill="#fff"/>
<rect x="720" y="31.2" width="161" height="80.8" fill="#ffd55f" stroke="none" />
<rect x="290" y="371.2" width="161" height="79.6" fill="#ffd55f" stroke="none" />
<rect x="720" y="371.2" width="161" height="80.6" fill="#ffd55f" stroke="none" />
<rect x="1150" y="370" width="161" height="80.8" fill="#ffd55f" stroke="none" />
<rect x="1820" y="370" width="161" height="80.8" fill="#ffd55f" stroke="none" />
<rect x="2190" y="371" width="161" height="81.5" fill="#ffd55f" stroke="none" />
<rect x="720" y="191" width="160" height="80" fill="#ffafbd" stroke="#99337a" stroke-width="4.6" />
<rect x="1820" y="191" width="160" height="80" fill="#ffa6c9" stroke="#99337a" stroke-width="4.6" />
<rect x="270.5" y="551.5" width="200" height="80" fill="#cddeed" stroke="#1e67b3" stroke-width="1" />
<rect x="610.5" y="551.5" width="180" height="80" fill="#cddeed" stroke="#1e67b3" stroke-width="1" />
<rect x="810.5" y="551.5" width="180" height="80" fill="#cddeed" stroke="#1e67b3" stroke-width="1" />
<rect x="1030.5" y="551.5" width="185" height="80" fill="#cddeed" stroke="#1e67b3" stroke-width="1" />
<rect x="1235.5" y="551.5" width="185" height="80" fill="#cddeed" stroke="#1e67b3" stroke-width="1" />
<rect x="1800.5" y="551.5" width="200" height="80" fill="#cddeed" stroke="#1e67b3" stroke-width="1" />
<rect x="2170.5" y="551.5" width="200" height="80" fill="#cddeed" stroke="#1e67b3" stroke-width="1" />
<rect x="1760.5" y="691.5" width="120" height="70" fill="#cddeed" stroke="#1e67b3" stroke-width="1" opacity="0.5"/>
<rect x="1920.5" y="691.5" width="120" height="70" fill="#cddeed" stroke="#1e67b3" stroke-width="1" opacity="0.5"/>
<rect x="1680.5" y="777.5" width="120" height="70" fill="#cddeed" stroke="#1e67b3" stroke-width="1" opacity="0.5"/>
<rect x="1840.5" y="777.5" width="120" height="70" fill="#cddeed" stroke="#1e67b3" stroke-width="1" opacity="0.5"/>
<rect x="2000.5" y="777.5" width="120" height="70" fill="#cddeed" stroke="#1e67b3" stroke-width="1" opacity="0.5"/>
<rect x="1960.5" y="611.5" width="140" height="60" rx="9" ry="9" fill="#52c76e" stroke="#52c76e" stroke-width="1.5"/>
<rect x="1970" y="642" width="40" height="19.5" rx="2.5" ry="2.5" fill="#60e783"/>
<rect x="990.5" y="777.5" width="140" height="60" rx="9" ry="9" fill="#62e884" stroke="#4fc46b" stroke-width="1.3" stroke-dasharray="8 4"/>
<g transform="translate(2100.2 671) scale(1.0)"><circle cx="0" cy="0" r="19.95" fill="#df2533"/><path d="M-7 -1 L-7 -5.8 A7 7 0 0 1 7 -5.8 L7 -1 Z" fill="#fff"/><ellipse cx="0" cy="3.45" rx="9.2" ry="9.6" fill="#fff"/><path d="M-4.7 -5.15 A4.7 4.7 0 0 1 4.7 -5.15 Q0 -5.9 -4.7 -5.15 Z" fill="#df2533"/><path d="M-5.9 3.9 L-1.8 7.4 L5.4 -0.5" fill="none" stroke="#df2533" stroke-width="1.9"/></g>
<g transform="translate(1130 836.8) scale(1.0)"><circle cx="0" cy="0" r="19.95" fill="#df2533"/><path d="M-7 -1 L-7 -5.8 A7 7 0 0 1 7 -5.8 L7 -1 Z" fill="#fff"/><ellipse cx="0" cy="3.45" rx="9.2" ry="9.6" fill="#fff"/><path d="M-4.7 -5.15 A4.7 4.7 0 0 1 4.7 -5.15 Q0 -5.9 -4.7 -5.15 Z" fill="#df2533"/><path d="M-5.9 3.9 L-1.8 7.4 L5.4 -0.5" fill="none" stroke="#df2533" stroke-width="1.9"/></g>
<g transform="translate(2009.2 659.8) scale(0.26)"><circle cx="0" cy="0" r="19.95" fill="#df2533"/><path d="M-7 -1 L-7 -5.8 A7 7 0 0 1 7 -5.8 L7 -1 Z" fill="#fff"/><ellipse cx="0" cy="3.45" rx="9.2" ry="9.6" fill="#fff"/><path d="M-4.7 -5.15 A4.7 4.7 0 0 1 4.7 -5.15 Q0 -5.9 -4.7 -5.15 Z" fill="#df2533"/><path d="M-5.9 3.9 L-1.8 7.4 L5.4 -0.5" fill="none" stroke="#df2533" stroke-width="1.9"/></g>
</svg>
<div class="l b" style="left:800px;top:71.5px">Lednings-<br>aktör</div>
<div class="l b" style="left:370px;top:411.5px">Egenskaps-<br>intygsägare</div>
<div class="l b" style="left:800px;top:411.5px">Federations-<br>operatör</div>
<div class="l b" style="left:1230px;top:410.5px">Anslutnings-<br>operatör</div>
<div class="l b" style="left:1900px;top:410.5px">Federations-<br>medlem</div>
<div class="l b" style="left:2270px;top:412.5px">Egenskaps-<br>intygsägare</div>
<div class="l b" style="left:800px;top:232px">Federations-<br>områdesansvarig</div>
<div class="l b" style="left:1900px;top:232px">Samverkans-<br>områdesansvarig</div>
<div class="l b" style="left:370.5px;top:591.5px">Egenskaps-<br>intygsutfärdartjänst<br>&lt;&lt;trust mark issuer&gt;&gt;</div>
<div class="l b" style="left:700.5px;top:591.5px">Tillitsankartjänst<br>&lt;&lt;trust anchor&gt;&gt;</div>
<div class="l b" style="left:900.5px;top:591.5px">Uppslags- och<br>verifieringstjänst<br>&lt;&lt;resolver&gt;&gt;</div>
<div class="l b" style="left:1123.0px;top:591.5px">Anslutningstjänst<br>&lt;&lt;intermediate&gt;&gt;</div>
<div class="l b" style="left:1328.0px;top:591.5px">Uppslags- och<br>verifieringstjänst<br>&lt;&lt;resolver&gt;&gt;</div>
<div class="l b" style="left:1900.5px;top:591.5px">Teknisk komponent<br>&lt;&lt;leaf&gt;&gt;</div>
<div class="l b" style="left:2270.5px;top:591.5px">Egenskaps-<br>intygsutfärdartjänst<br>&lt;&lt;trust mark issuer&gt;&gt;</div>
<div class="l b" style="left:1820.5px;top:726.5px">OIDC OP</div>
<div class="l b" style="left:1980.5px;top:726.5px">OIDC RP</div>
<div class="l b" style="left:1740.5px;top:812.5px">OAuth Client</div>
<div class="l b" style="left:1900.5px;top:812.5px">OAuth AS</div>
<div class="l b" style="left:2060.5px;top:812.5px">OAuth<br>protected<br>resource</div>
<div class="l g" style="left:2030.5px;top:623px">Metadata</div>
<div class="l g" style="left:1060.5px;top:807.5px">Egenskapsintyg<br>&lt;&lt;trust mark&gt;&gt;</div>
<div class="l e" style="left:800.5px;top:132px">styr och reglerar</div>
<div class="l e" style="left:533.5px;top:313.5px">tillser behov av</div>
<div class="l e" style="left:1044px;top:312.5px">tillser behov av</div>
<div class="l e" style="left:799.5px;top:313px">realiserar<br>federation<br><span style="padding-left:4.4px">via</span></div>
<div class="l e lh" style="left:587.5px;top:412.5px">godkänner<br>användning av</div>
<div class="l e pad" style="left:1017px;top:411.5px">delegerar till</div>
<div class="l e" style="left:1389.5px;top:232.5px">etablerar samverkan</div>
<div class="l e lh2" style="left:1901.7px;top:322px"><span style="padding-right:4.4px">agerar som</span><br>eller utser</div>
<div class="l e" style="left:2118px;top:302.5px">tillser behov av</div>
<div class="l e lh2" style="left:1572.5px;top:411.5px">ansluter teknisk<br>komponent via</div>
<div class="l e" style="left:371.5px;top:522.5px">ansvarar för</div>
<div class="l e" style="left:698px;top:522.5px">ansvarar för</div>
<div class="l e" style="left:906.5px;top:521.5px">ansvarar för</div>
<div class="l e" style="left:1124px;top:522.5px">ansvarar för</div>
<div class="l e" style="left:1329px;top:522.5px">ansvarar för</div>
<div class="l e lh2" style="left:1500.5px;top:562.5px">verifierar andras<br><span style="padding-right:4px">metadata</span></div>
<div class="l e" style="left:1382px;top:652.5px">stämplar metadata för</div>
<div class="l e" style="left:1222px;top:682.5px">kvalificerar / granskar</div>
<div class="l e" style="left:1063px;top:713px">stämplar egenskapsintyg för</div>
<div class="l e" style="left:2088.5px;top:567px">stämplar<br>egenskapsintyg<br>för</div>
<div class="l s" style="left:1900.5px;top:662.5px">kan vara av typen</div>
<div class="t" style="left:70px;top:47px">Samordnad identitet och behörighet</div>
<div class="t" style="left:301px;top:206px">Federationsinfrastrukturen</div>
<div class="t" style="left:1700.5px;top:46.5px">Samverkansområde</div>
<div class="v" style="left:60px;top:466px">ORGANISATORISK VY</div>
<div class="v" style="left:71px;top:536px">TEKNISK VY</div>
</div>
</body></html>
